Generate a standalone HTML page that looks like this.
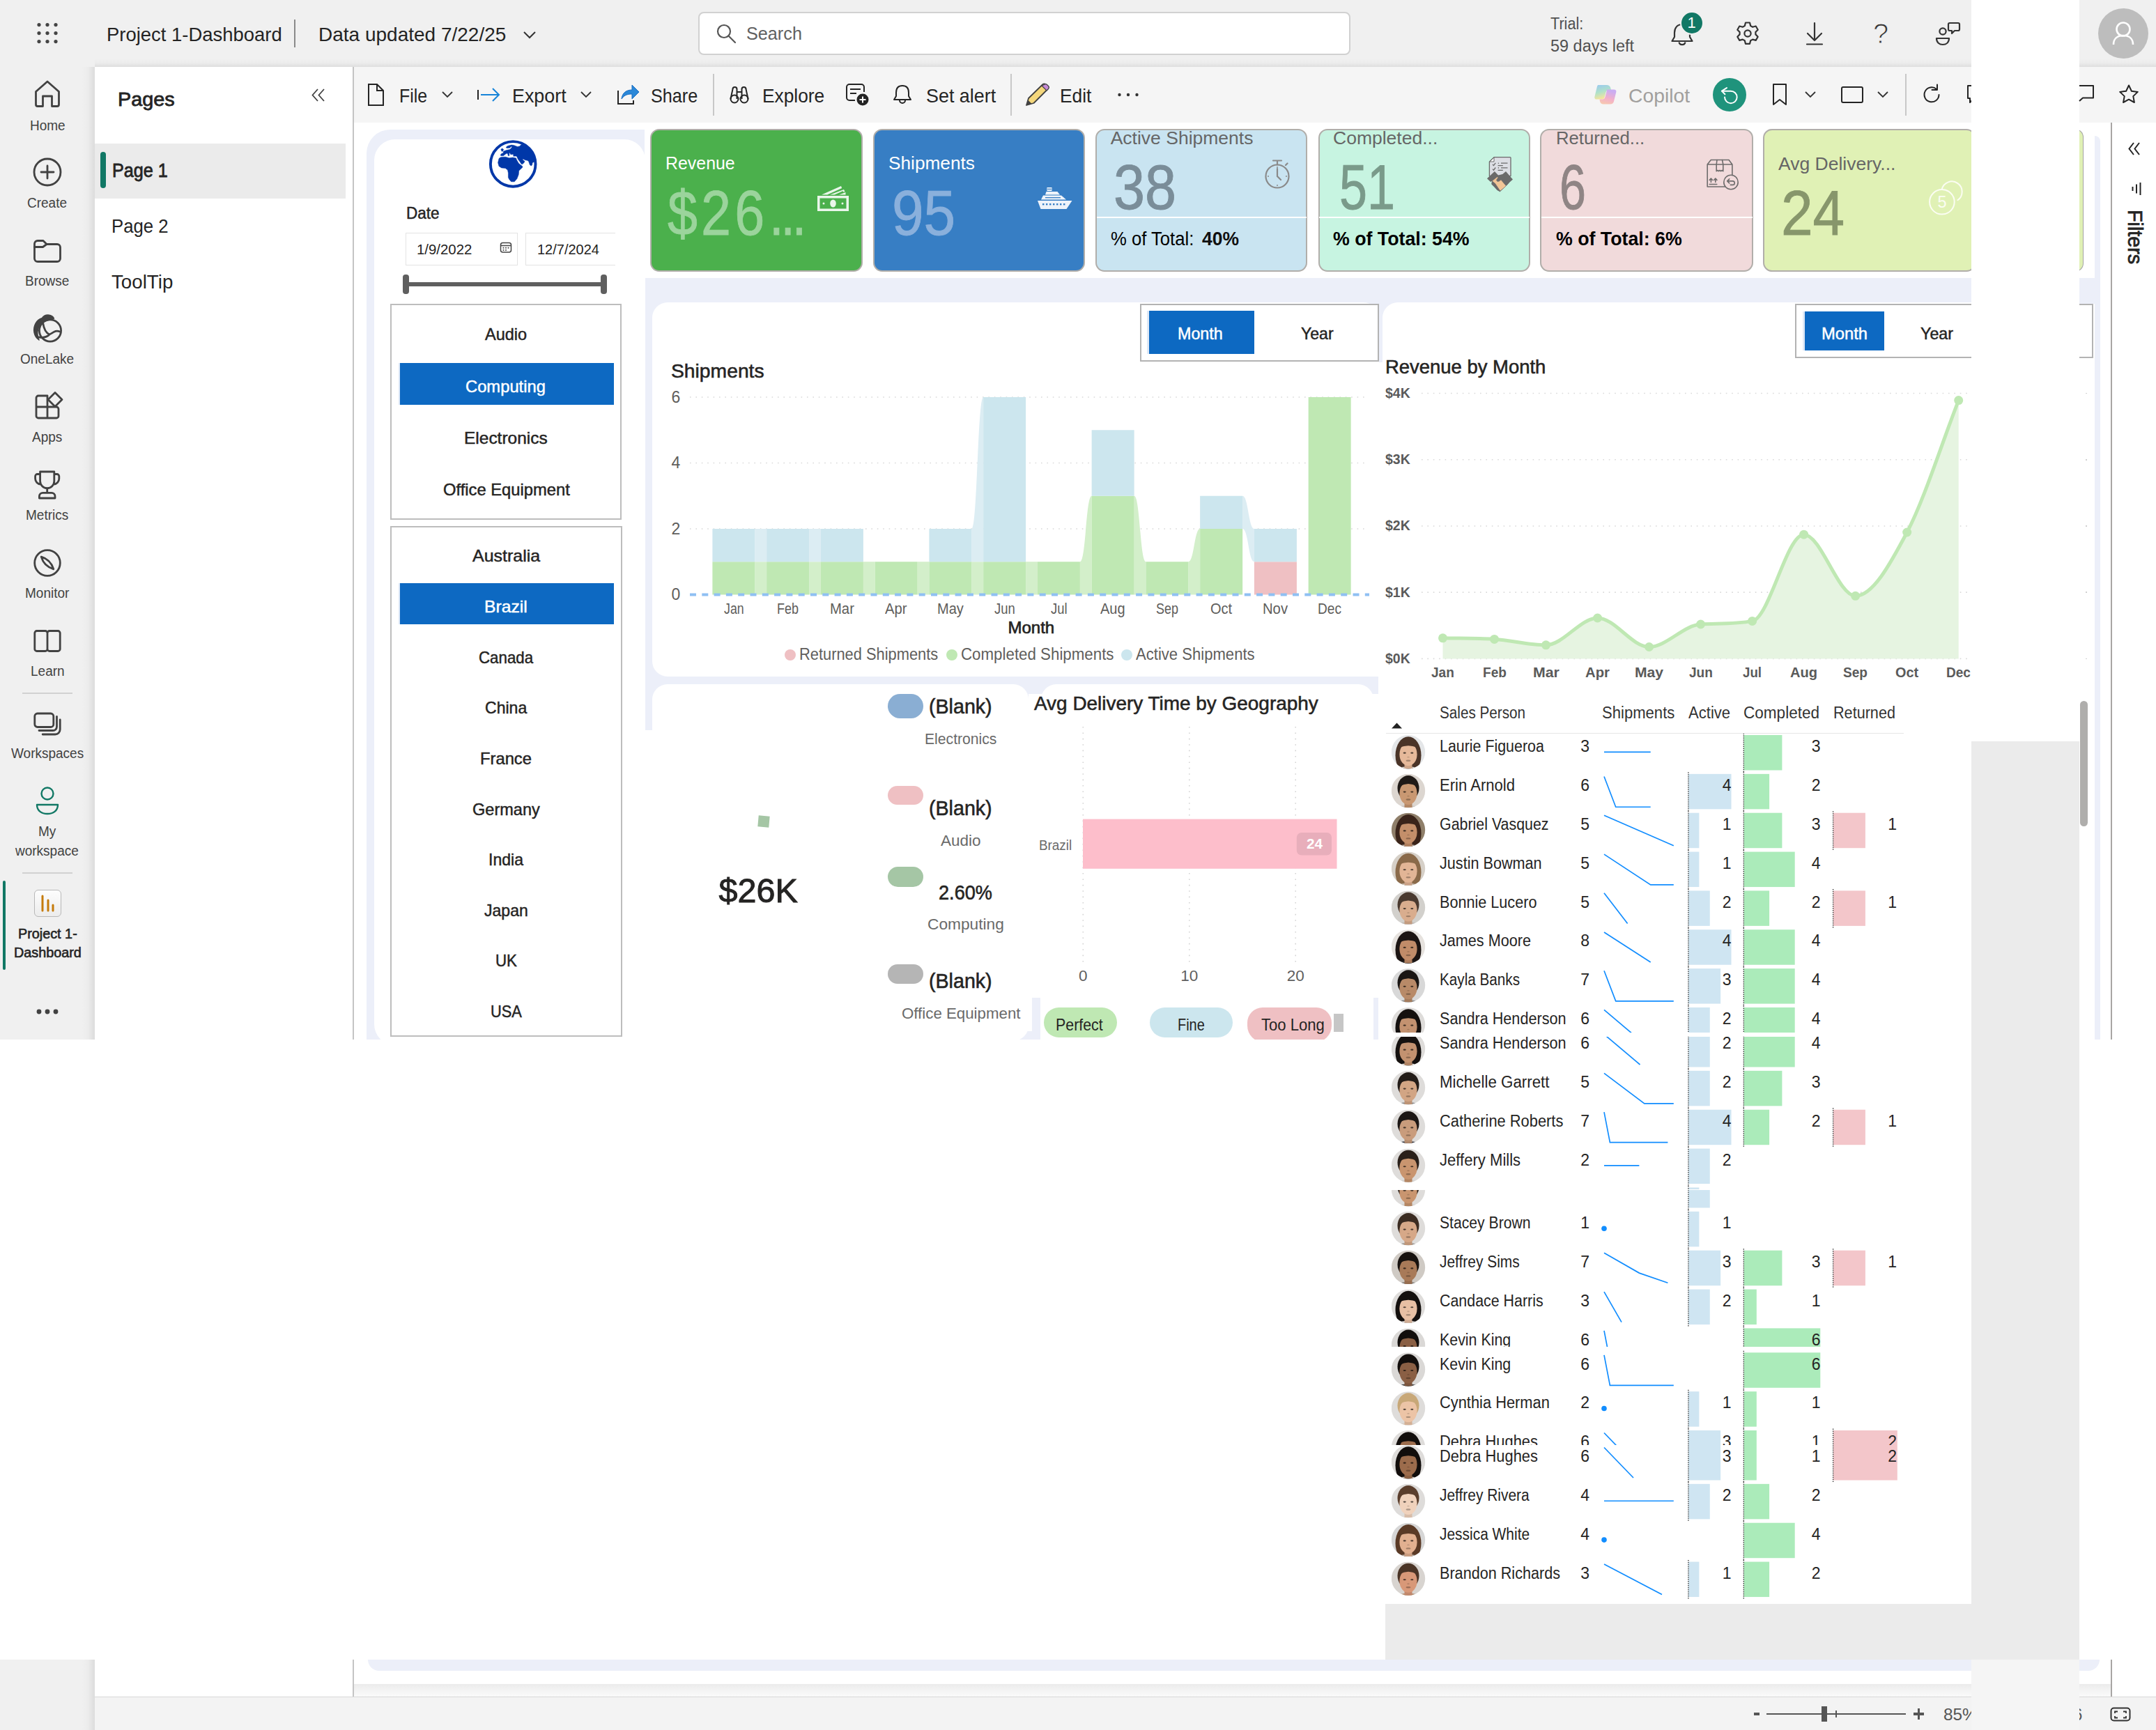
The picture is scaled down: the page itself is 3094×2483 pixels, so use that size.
<!DOCTYPE html>
<html lang="en"><head><meta charset="utf-8"><title>Project 1-Dashboard</title>
<style>
html,body{margin:0;padding:0;}
body{width:3094px;height:2483px;position:relative;overflow:hidden;background:#fff;font-family:"Liberation Sans",sans-serif;}
div,span.t,svg{position:absolute;}
span.t{white-space:nowrap;line-height:1em;transform-origin:0 0;}
svg{overflow:visible;}
</style></head><body>
<div style="left:0px;top:0px;width:3094px;height:96px;background:#f0f0f0;"></div>
<div style="left:0px;top:96px;width:136px;height:1396px;background:#f0f0f0;"></div>
<div style="left:118px;top:96px;width:18px;height:1396px;background:linear-gradient(to right,#f0f0f0,#ececec 45%,#dcdcdc);"></div>
<div style="left:136px;top:96px;width:371px;height:1396px;background:#fff;"></div>
<div style="left:506px;top:96px;width:2px;height:1396px;background:#c4c4c4;"></div>
<div style="left:508px;top:96px;width:2586px;height:80px;background:#f5f5f5;"></div>
<div style="left:136px;top:84px;width:2958px;height:12px;background:linear-gradient(#f0f0f0,#ededed 50%,#dedede);"></div>
<svg style="left:0px;top:0px;" width="136" height="96" viewBox="0 0 136 96"><g fill="#444"><circle cx="56" cy="35.6" r="2.6"/><circle cx="56" cy="47.6" r="2.6"/><circle cx="56" cy="59.6" r="2.6"/><circle cx="68" cy="35.6" r="2.6"/><circle cx="68" cy="47.6" r="2.6"/><circle cx="68" cy="59.6" r="2.6"/><circle cx="80" cy="35.6" r="2.6"/><circle cx="80" cy="47.6" r="2.6"/><circle cx="80" cy="59.6" r="2.6"/></g></svg>
<span class="t" style="left:152.5px;top:35.7px;font-size:28px;color:#242424;transform:scaleX(0.98);">Project 1-Dashboard</span>
<div style="left:421.5px;top:28px;width:2px;height:40px;background:#8a8a8a;"></div>
<span class="t" style="left:457px;top:35.7px;font-size:28px;color:#242424;transform:scaleX(1);">Data updated 7/22/25</span>
<svg style="left:748px;top:40px;" width="24" height="20" viewBox="0 0 24 20"><path d="M4 6 L12 14 L20 6" fill="none" stroke="#333" stroke-width="2"/></svg>
<div style="left:1002px;top:16.5px;width:936px;height:62.5px;background:#fff;border:2px solid #d1d1d1;border-radius:8px;box-sizing:border-box;"></div>
<svg style="left:1026px;top:32px;" width="32" height="32" viewBox="0 0 32 32"><circle cx="13" cy="13" r="9" fill="none" stroke="#555" stroke-width="2.2"/><path d="M20 20 L29 29" stroke="#555" stroke-width="2.2" stroke-linecap="round"/></svg>
<span class="t" style="left:1070.5px;top:34.99px;font-size:26px;color:#616161;transform:scaleX(0.97);">Search</span>
<span class="t" style="left:2224.7px;top:22.53px;font-size:23px;color:#505050;transform:scaleX(0.94);">Trial:</span>
<span class="t" style="left:2224.7px;top:54.53px;font-size:23px;color:#505050;transform:scaleX(1.02);">59 days left</span>
<svg style="left:2392px;top:26px;" width="44" height="44" viewBox="0 0 44 44"><path d="M22 9 c-7 0 -11 5 -11 12 v6 l-3.5 6 h29 l-3.5 -6 v-6 c0-7 -4-12 -11-12z" fill="none" stroke="#333" stroke-width="2.2" stroke-linejoin="round"/><path d="M17.5 34.5 a4.6 4.6 0 0 0 9 0" fill="none" stroke="#333" stroke-width="2.2"/></svg>
<div style="left:2410.5px;top:15.5px;width:34px;height:34px;background:#117865;border-radius:50%;border:2px solid #f0f0f0;box-sizing:border-box;"></div>
<span class="t" style="left:2421.48px;top:21.88px;font-size:22px;color:#fff;">1</span>
<svg style="left:2485.8px;top:26px;" width="44" height="44" viewBox="0 0 44 44"><g fill="none" stroke="#333" stroke-width="2.2" stroke-linejoin="round"><circle cx="22" cy="22" r="4.6"/><path d="M19 6.5 h6 l1.2 4.6 3 1.7 4.5-1.3 3 5.2-3.3 3.3 v3.4 l3.3 3.3-3 5.2-4.5-1.3-3 1.7-1.2 4.6 h-6 l-1.2-4.6-3-1.7-4.5 1.3-3-5.2 3.3-3.3 v-3.4 l-3.3-3.3 3-5.2 4.5 1.3 3-1.7z"/></g></svg>
<svg style="left:2582px;top:26px;" width="44" height="44" viewBox="0 0 44 44"><g fill="none" stroke="#333" stroke-width="2.2" stroke-linecap="round" stroke-linejoin="round"><path d="M22 7 v24 M12 22 l10 10 10-10 M11 37.5 h22"/></g></svg>
<span class="t" style="left:2687.88px;top:28.14px;font-size:40px;color:#333;-webkit-text-stroke:1px #f0f0f0;">?</span>
<svg style="left:2774px;top:26px;" width="44" height="44" viewBox="0 0 44 44"><g fill="none" stroke="#333" stroke-width="2.2" stroke-linejoin="round"><circle cx="14" cy="19" r="4.6"/><path d="M5 29 h18 c0 6 -4 9 -9 9 s-9-3 -9-9z"/><path d="M24 7 h12 a2 2 0 0 1 2 2 v7 a2 2 0 0 1 -2 2 h-5 l-4 4 v-4 h-3 a2 2 0 0 1 -2-2 v-7 a2 2 0 0 1 2-2z"/></g></svg>
<div style="left:3011px;top:12px;width:72px;height:72px;background:#bdbdbd;border-radius:50%;"></div>
<svg style="left:3011px;top:12px;" width="72" height="72" viewBox="0 0 72 72"><g fill="none" stroke="#fff" stroke-width="2.6"><circle cx="36" cy="30" r="9.5"/><path d="M22 52 c0-9 6-13 14-13 s14 4 14 13"/></g></svg>
<svg style="left:48px;top:114px;" width="40" height="42" viewBox="0 0 40 42"><path fill="none" stroke="#424242" stroke-width="2.800" stroke-linejoin="round" stroke-linecap="round" d="M3.500 17.500 L20 3 L36.500 17.500 V36 a2.500 2.500 0 0 1 -2.500 2.500 H26.500 V24 H13.500 V38.500 H6 a2.500 2.500 0 0 1 -2.500-2.500z"/></svg>
<span class="t" style="left:42.52px;top:169.57px;font-size:20px;color:#424242;transform:scaleX(0.95);">Home</span>
<svg style="left:46px;top:225px;" width="44" height="44" viewBox="0 0 44 44"><circle cx="22" cy="22" r="19" fill="none" stroke="#424242" stroke-width="2.800" stroke-linejoin="round" stroke-linecap="round"/><path fill="none" stroke="#424242" stroke-width="2.800" stroke-linejoin="round" stroke-linecap="round" d="M22 13 V31 M13 22 H31"/></svg>
<span class="t" style="left:39.34px;top:281.07px;font-size:20px;color:#424242;transform:scaleX(0.95);">Create</span>
<svg style="left:46px;top:340px;" width="44" height="40" viewBox="0 0 44 40"><path fill="none" stroke="#424242" stroke-width="2.800" stroke-linejoin="round" stroke-linecap="round" d="M3.500 10 a4.500 4.500 0 0 1 4.500-4.500 h8 l5 5 h15 a4.500 4.500 0 0 1 4.500 4.500 v16 a4.500 4.500 0 0 1 -4.500 4.500 h-28 a4.500 4.500 0 0 1 -4.500-4.500z"/><path fill="none" stroke="#424242" stroke-width="2.800" stroke-linejoin="round" stroke-linecap="round" d="M3.500 14.500 h12 l5.500-4"/></svg>
<span class="t" style="left:36.15px;top:393.07px;font-size:20px;color:#424242;transform:scaleX(0.95);">Browse</span>
<svg style="left:46px;top:450px;" width="44" height="44" viewBox="0 0 44 44"><circle cx="26" cy="24.500" r="15.600" fill="none" stroke="#424242" stroke-width="2.800" stroke-linejoin="round" stroke-linecap="round"/><path d="M31.500 7 C28 0.500 18 0.500 14.500 6.500 C6 9 1.500 18 3 27 C4 32 6.500 35.500 10 38 C5.500 28 8 16.500 17.500 11.500 C21.500 9.500 27.500 8.500 31.500 7z" fill="#424242" stroke="#424242" stroke-width="1.500" stroke-linejoin="round"/><path fill="none" stroke="#424242" stroke-width="2.800" stroke-linejoin="round" stroke-linecap="round" d="M15.600 13.500 C17 22 20 28 25 30 C30.500 27.500 33 23.500 40 26 M9.500 33.800 C16 35 21.500 34 25 30"/></svg>
<span class="t" style="left:29.24px;top:505.07px;font-size:20px;color:#424242;transform:scaleX(0.95);">OneLake</span>
<svg style="left:46px;top:562px;" width="46" height="44" viewBox="0 0 46 44"><path fill="none" stroke="#424242" stroke-width="2.800" stroke-linejoin="round" stroke-linecap="round" d="M22 6 H9 a3 3 0 0 0 -3 3 V35 a3 3 0 0 0 3 3 H35 a3 3 0 0 0 3-3 V25 a3 3 0 0 0 -3-3 H6 M22 6 V38"/><path fill="none" stroke="#424242" stroke-width="2.800" stroke-linejoin="round" stroke-linecap="round" d="M33 1.600 L43 11.600 L33 21.600 L23 11.600z"/></svg>
<span class="t" style="left:46.23px;top:617.07px;font-size:20px;color:#424242;transform:scaleX(0.95);">Apps</span>
<svg style="left:46px;top:674px;" width="44" height="44" viewBox="0 0 44 44"><path fill="none" stroke="#424242" stroke-width="2.800" stroke-linejoin="round" stroke-linecap="round" d="M11.600 3 h20.200 v13.500 a10.100 10.100 0 0 1 -20.200 0z M11.600 6.500 h-4 a3 3 0 0 0 -3 3 v3.500 a8 8 0 0 0 7.500 8 M31.800 6.500 h4 a3 3 0 0 1 3 3 v3.500 a8 8 0 0 1 -7.500 8 M21.700 27 v6.400 M10.400 41 v-2.600 a5 5 0 0 1 5-5 h12.600 a5 5 0 0 1 5 5 v2.600z"/></svg>
<span class="t" style="left:37.23px;top:729.07px;font-size:20px;color:#424242;transform:scaleX(0.95);">Metrics</span>
<svg style="left:46px;top:786px;" width="44" height="44" viewBox="0 0 44 44"><circle cx="22" cy="22" r="18.300" fill="none" stroke="#424242" stroke-width="2.800" stroke-linejoin="round" stroke-linecap="round"/><path fill="none" stroke="#424242" stroke-width="2.800" stroke-linejoin="round" stroke-linecap="round" d="M13.200 13.200 C21 15.500 27.500 20.500 30.800 30.800 C21.500 28 16 23 13.200 13.200z"/></svg>
<span class="t" style="left:36.15px;top:841.07px;font-size:20px;color:#424242;transform:scaleX(0.95);">Monitor</span>
<svg style="left:46px;top:900px;" width="44" height="40" viewBox="0 0 44 40"><path fill="none" stroke="#424242" stroke-width="2.800" stroke-linejoin="round" stroke-linecap="round" d="M3.800 8.500 a3 3 0 0 1 3-3 h12.200 a3 3 0 0 1 3 3 v23 a3 3 0 0 1 -3 3 h-12.200 a3 3 0 0 1 -3-3z M22 8.500 a3 3 0 0 1 3-3 h12.200 a3 3 0 0 1 3 3 v23 a3 3 0 0 1 -3 3 h-12.200 a3 3 0 0 1 -3-3z"/></svg>
<span class="t" style="left:43.57px;top:953.07px;font-size:20px;color:#424242;transform:scaleX(0.95);">Learn</span>
<div style="left:32px;top:993.8px;width:72px;height:2px;background:#d1d1d1;"></div>
<svg style="left:46px;top:1020px;" width="46" height="38" viewBox="0 0 46 38"><rect x="3.800" y="4" width="27" height="19.500" rx="4" fill="none" stroke="#424242" stroke-width="2.800" stroke-linejoin="round" stroke-linecap="round"/><path fill="none" stroke="#424242" stroke-width="2.800" stroke-linejoin="round" stroke-linecap="round" d="M35.500 8.500 v14.500 a5.500 5.500 0 0 1 -5.500 5.500 h-20 M40.200 13 v14 a7 7 0 0 1 -7 7 h-18"/></svg>
<span class="t" style="left:15.63px;top:1071.07px;font-size:20px;color:#424242;transform:scaleX(0.95);">Workspaces</span>
<svg style="left:48px;top:1128px;" width="40" height="44" viewBox="0 0 40 44"><circle cx="20" cy="11" r="8.5" fill="none" stroke="#117865" stroke-width="2.400" stroke-linejoin="round" stroke-linecap="round"/><path fill="none" stroke="#117865" stroke-width="2.400" stroke-linejoin="round" stroke-linecap="round" d="M5 27 h30 c0 9 -7 13 -15 13 s-15-4 -15-13z"/></svg>
<span class="t" style="left:55.27px;top:1183.07px;font-size:20px;color:#424242;transform:scaleX(0.95);">My</span>
<span class="t" style="left:22.35px;top:1211.07px;font-size:20px;color:#424242;transform:scaleX(0.95);">workspace</span>
<div style="left:32px;top:1252px;width:72px;height:2px;background:#d1d1d1;"></div>
<div style="left:4px;top:1264px;width:4px;height:128px;background:#117865;border-radius:2px;"></div>
<div style="left:48.5px;top:1276.5px;width:39px;height:39px;background:linear-gradient(#fdfdfd,#ececec);border:1.5px solid #b8b8b8;border-radius:6px;box-sizing:border-box;"></div>
<svg style="left:48.5px;top:1276.5px;" width="39" height="39" viewBox="0 0 39 39"><g stroke="#c57b0a" stroke-width="3" stroke-linecap="round"><path d="M12 9 V30"/><path d="M20 15 V30"/><path d="M27 22 V30"/></g></svg>
<span class="t" style="left:25.63px;top:1329.57px;font-size:20px;color:#242424;-webkit-text-stroke:0.6px;transform:scaleX(0.99);">Project 1-</span>
<span class="t" style="left:19.57px;top:1357.07px;font-size:20px;color:#242424;-webkit-text-stroke:0.6px;transform:scaleX(0.99);">Dashboard</span>
<svg style="left:50px;top:1444px;" width="36" height="16" viewBox="0 0 36 16"><g fill="#424242"><circle cx="6" cy="8" r="3.4"/><circle cx="18" cy="8" r="3.4"/><circle cx="30" cy="8" r="3.4"/></g></svg>
<span class="t" style="left:169px;top:127.87px;font-size:28.5px;color:#242424;-webkit-text-stroke:0.8px;transform:scaleX(1.01);">Pages</span>
<svg style="left:446px;top:126px;" width="22" height="22" viewBox="0 0 22 22"><path d="M10 2 L2.5 10.5 L10 19 M19 2 L11.5 10.5 L19 19" fill="none" stroke="#424242" stroke-width="1.8"/></svg>
<div style="left:136px;top:205.5px;width:359.5px;height:79.5px;background:#ebebeb;"></div>
<div style="left:144px;top:217.5px;width:7.5px;height:52px;background:#117865;border-radius:4px;"></div>
<span class="t" style="left:161px;top:231.3px;font-size:28px;color:#242424;-webkit-text-stroke:0.8px;transform:scaleX(0.9);">Page 1</span>
<span class="t" style="left:160px;top:311.3px;font-size:28px;color:#242424;transform:scaleX(0.92);">Page 2</span>
<span class="t" style="left:160px;top:391.3px;font-size:28px;color:#242424;transform:scaleX(0.99);">ToolTip</span>
<svg style="left:526px;top:118px;" width="28" height="36" viewBox="0 0 28 36"><path fill="none" stroke="#242424" stroke-width="2" d="M3 3 h12 l9 9 v21 h-21z M15 3 v9 h9"/></svg>
<span class="t" style="left:573px;top:123.6px;font-size:28px;color:#242424;transform:scaleX(0.89);">File</span>
<svg style="left:634px;top:130px;" width="16" height="12" viewBox="0 0 16 12"><path d="M1 2 L8 9 L15 2" fill="none" stroke="#333" stroke-width="1.8"/></svg>
<svg style="left:684px;top:122px;" width="36" height="28" viewBox="0 0 36 28"><path d="M2 7 v14" stroke="#242424" stroke-width="2"/><path d="M6 14 h25 M23 5 l9 9 -9 9" fill="none" stroke="#1684d8" stroke-width="2"/></svg>
<span class="t" style="left:735px;top:123.6px;font-size:28px;color:#242424;transform:scaleX(0.96);">Export</span>
<svg style="left:833px;top:130px;" width="16" height="12" viewBox="0 0 16 12"><path d="M1 2 L8 9 L15 2" fill="none" stroke="#333" stroke-width="1.8"/></svg>
<svg style="left:884px;top:118px;" width="36" height="34" viewBox="0 0 36 34"><path d="M3 12 v19 h22 v-5" fill="none" stroke="#242424" stroke-width="2"/><path d="M8 24 c1-9 7-13 15-13 v-7 l10 10 -10 10 v-7 c-6 0 -11 1 -15 7z" fill="#2b88d8" stroke="#1b6ec2" stroke-width="1"/></svg>
<span class="t" style="left:934px;top:123.6px;font-size:28px;color:#242424;transform:scaleX(0.9);">Share</span>
<div style="left:1022.5px;top:106px;width:2px;height:60px;background:#c8c8c8;"></div>
<svg style="left:1046px;top:120px;" width="30" height="32" viewBox="0 0 30 32"><g fill="none" stroke="#242424" stroke-width="2"><circle cx="8" cy="22" r="5.5"/><circle cx="22" cy="22" r="5.5"/><path d="M2.5 22 l3-14 a3 3 0 0 1 6 0 v14 M27.500 22 l-3-14 a3 3 0 0 0 -6 0 v14 M11.500 12 h7"/></g></svg>
<span class="t" style="left:1094px;top:123.6px;font-size:28px;color:#242424;transform:scaleX(0.94);">Explore</span>
<svg style="left:1212px;top:118px;" width="38" height="36" viewBox="0 0 38 36"><path d="M28 14 v-7 a4 4 0 0 0 -4-4 h-17 a4 4 0 0 0 -4 4 v15 a4 4 0 0 0 4 4 h8" fill="none" stroke="#242424" stroke-width="2"/><path d="M8 10 h15 M8 16 h9" stroke="#242424" stroke-width="2"/><circle cx="26" cy="25" r="8.5" fill="#242424"/><path d="M26 20.500 v9 M21.500 25 h9" stroke="#fff" stroke-width="2"/></svg>
<svg style="left:1280px;top:120px;" width="30" height="32" viewBox="0 0 30 32"><path d="M15 3 c-6 0 -9 4 -9 10 v5 l-3 5 h24 l-3-5 v-5 c0-6 -3-10 -9-10z M11 24 a4 4 0 0 0 8 0" fill="none" stroke="#242424" stroke-width="2" stroke-linejoin="round"/></svg>
<span class="t" style="left:1328.5px;top:123.6px;font-size:28px;color:#242424;transform:scaleX(0.96);">Set alert</span>
<div style="left:1450px;top:106px;width:2px;height:60px;background:#c8c8c8;"></div>
<svg style="left:1468px;top:118px;" width="40" height="38" viewBox="0 0 40 38"><path d="M5 33 l3-10 L28 3.500 a3.500 3.500 0 0 1 5 0 l2 2 a3.500 3.500 0 0 1 0 5 L15.500 30z" fill="#f4d77c" stroke="#424242" stroke-width="1.8" stroke-linejoin="round"/><path d="M27 5 l7 7 2.500-2.500 a3 3 0 0 0 0-4 l-2-2 a3 3 0 0 0 -4 0z" fill="#c78bd8" stroke="#424242" stroke-width="1.2"/><path d="M5 33 l2.200-7.500 5.300 5.300z" fill="#424242"/></svg>
<span class="t" style="left:1521px;top:123.6px;font-size:28px;color:#242424;transform:scaleX(0.94);">Edit</span>
<svg style="left:1602px;top:130px;" width="34" height="12" viewBox="0 0 34 12"><g fill="#333"><circle cx="4.500" cy="6" r="2.200"/><circle cx="17" cy="6" r="2.200"/><circle cx="29.500" cy="6" r="2.200"/></g></svg>
<svg style="left:2287px;top:121px;opacity:.9;" width="34" height="30" viewBox="0 0 34 30"><defs><linearGradient id="cgl" x1="0" y1="0" x2="0.300" y2="1"><stop offset="0" stop-color="#8fc4f2"/><stop offset=".55" stop-color="#a9e0c4"/><stop offset="1" stop-color="#f6e493"/></linearGradient><linearGradient id="cgr" x1="0.300" y1="0" x2="0" y2="1"><stop offset="0" stop-color="#c6a6f2"/><stop offset=".5" stop-color="#f3a9c6"/><stop offset="1" stop-color="#f9c9a2"/></linearGradient></defs><path d="M6.500 1 H18.500 Q23.500 1 24.500 6 L25 8 H21.500 Q18.500 8 17.500 11.500 L15.500 19 Q14.800 21.500 12 21.500 H4.500 Q0.500 21.500 1.500 17.500 L4.500 5 Q5.300 1 6.500 1z" fill="url(#cgl)"/><path d="M18.500 7.500 H29 Q33.200 7.500 32.200 11.500 L29 24.500 Q28 28.600 24 28.600 H14 Q10 28.600 9 24.500 L8.500 21.500 H12.500 Q15.500 21.500 16.500 18 L18.500 10.500 Q19 8.500 18.500 7.500z" fill="url(#cgr)"/></svg>
<span class="t" style="left:2336.7px;top:123.6px;font-size:28px;color:#a19f9d;transform:scaleX(1.01);">Copilot</span>
<div style="left:2458px;top:111.9px;width:48px;height:48px;background:#1f937c;border-radius:50%;"></div>
<svg style="left:2457.6px;top:111.5px;" width="48.4" height="48.4" viewBox="0 0 48.4 48.4"><path d="M13.200 18.650 H25.860 A8.800 8.800 0 1 1 17.060 27.450" fill="none" stroke="#fff" stroke-width="2" stroke-linecap="round"/><path d="M20 14.100 L12.900 18.650 L17.400 23.200" fill="none" stroke="#fff" stroke-width="2" stroke-linecap="round" stroke-linejoin="round"/></svg>
<svg style="left:2542px;top:119px;" width="24" height="34" viewBox="0 0 24 34"><path d="M3 2 h18 v29 l-9-7 -9 7z" fill="none" stroke="#242424" stroke-width="2" stroke-linejoin="round"/></svg>
<svg style="left:2590px;top:130px;" width="16" height="12" viewBox="0 0 16 12"><path d="M1 2 L8 9 L15 2" fill="none" stroke="#333" stroke-width="1.8"/></svg>
<div style="left:2642px;top:124px;width:32px;height:24px;border:2px solid #242424;border-radius:3px;box-sizing:border-box;"></div>
<svg style="left:2694px;top:130px;" width="16" height="12" viewBox="0 0 16 12"><path d="M1 2 L8 9 L15 2" fill="none" stroke="#333" stroke-width="1.8"/></svg>
<div style="left:2734px;top:106px;width:2px;height:60px;background:#c8c8c8;"></div>
<svg style="left:2756px;top:120px;" width="32" height="32" viewBox="0 0 32 32"><path d="M26.500 16 a10.500 10.500 0 1 1 -3.500-8" fill="none" stroke="#242424" stroke-width="2" stroke-linecap="round"/><path d="M24 1.500 v7.500 h-7.500" fill="none" stroke="#242424" stroke-width="2" stroke-linecap="round" stroke-linejoin="round"/></svg>
<svg style="left:2822px;top:121px;" width="32" height="30" viewBox="0 0 32 30"><path d="M2 2 h26 v18 h-17 l-6 6 v-6 h-3z" fill="none" stroke="#242424" stroke-width="2" stroke-linejoin="round"/></svg>
<div style="left:508px;top:176px;width:2522px;height:1316px;background:#fff;"></div>
<div style="left:526px;top:186px;width:2333px;height:1400px;background:#eceff9;border-radius:34px 0 0 0;"></div>
<div style="left:925px;top:176px;width:1910px;height:223px;background:#fff;"></div>
<div style="left:537px;top:200px;width:388.5px;height:1300px;background:#fff;border-radius:30px 30px 0 30px;"></div>
<svg style="left:701.9px;top:200.9px;" width="68.5" height="68.5" viewBox="0 0 68.5 68.5"><circle cx="34.2" cy="34.4" r="32.300" fill="#fff" stroke="#0037a8" stroke-width="3.900"/><path fill="#0037a8" stroke="#0037a8" stroke-width="0.500" stroke-linejoin="round" d="M14.0 26.5 L15.9 25.1 L18.2 24.4 L23.3 24.2 L28.8 25.8 L33.9 25.1 L38.7 26.0 L39.2 28.1 L42.4 33.4 L47.8 37.8 L47.8 39.2 L42.7 44.1 L42.2 49.6 L39.9 55.6 L36.2 59.8 L31.6 59.8 L28.8 56.5 L27.4 53.8 L27.4 47.3 L26.5 43.1 L23.3 40.4 L17.7 39.9 L14.0 37.6 L12.6 32.5z M39.9 24.2 L39.0 23.0 L34.8 23.2 L34.8 20.5 L32.5 20.5 L31.1 20.9 L29.7 18.6 L28.8 18.6 L28.8 22.3 L27.4 22.8 L26.5 19.3 L24.6 19.3 L20.5 22.5 L16.8 22.5 L16.2 21.4 L17.7 19.5 L20.5 18.4 L20.0 16.8 L21.4 15.8 L25.1 14.5 L29.7 13.5 L31.6 11.7 L32.9 9.5 L31.8 9.2 L29.5 11.3 L25.1 11.6 L24.2 10.3 L26.5 8.4 L32.0 7.1 L35.3 7.5 L40.4 9.4 L43.6 8.9 L45.9 6.6 L46.5 6.2 L52.9 9.4 L58.4 14.5 L62.1 20.0 L64.4 26.5 L65.0 31.1 L62.1 32.5 L61.6 35.7 L60.3 37.1 L58.4 35.7 L56.6 30.6 L54.7 29.3 L51.9 28.8 L48.7 27.2 L47.8 28.1 L51.0 30.6 L50.1 32.5 L47.5 34.8 L46.1 34.3 L43.6 30.6 L41.3 27.4 L40.8 26.0z M16.8 13.5 L18.6 11.9 L20.7 13.5 L19.6 15.8 L18.4 16.5z"/></svg>
<span class="t" style="left:582.5px;top:294.61px;font-size:23.5px;color:#252423;-webkit-text-stroke:0.47px;transform:scaleX(0.96);">Date</span>
<div style="left:582px;top:334px;width:161px;height:46.5px;background:#fff;border:1.5px solid #e3e3e3;box-sizing:border-box;"></div>
<div style="left:754px;top:334px;width:129px;height:46.5px;background:#fff;border:1.5px solid #e3e3e3;border-right:none;box-sizing:border-box;"></div>
<span class="t" style="left:598px;top:348.07px;font-size:20px;color:#252423;transform:scaleX(1.02);">1/9/2022</span>
<span class="t" style="left:771px;top:348.07px;font-size:20px;color:#252423;">12/7/2024</span>
<svg style="left:717px;top:346px;" width="18" height="18" viewBox="0 0 18 18"><rect x="1.500" y="2.500" width="15" height="13.500" rx="3" fill="none" stroke="#444" stroke-width="1.500"/><path d="M1.500 6.500 h15" stroke="#444" stroke-width="1.500"/><g fill="#444"><circle cx="5.500" cy="9.800" r="1"/><circle cx="9" cy="9.800" r="1"/><circle cx="12.500" cy="9.800" r="1"/><circle cx="5.500" cy="13" r="1"/><circle cx="9" cy="13" r="1"/></g></svg>
<div style="left:582px;top:404.5px;width:284px;height:6px;background:#5f5f5f;"></div>
<div style="left:578px;top:393.5px;width:9px;height:28px;background:#5f5f5f;border-radius:4px;"></div>
<div style="left:861.5px;top:393.5px;width:9px;height:28px;background:#5f5f5f;border-radius:4px;"></div>
<div style="left:560.3px;top:436px;width:331.5px;height:309.5px;background:#fff;border:2px solid #bdbdbd;box-sizing:border-box;"></div>
<div style="left:571.5px;top:521px;width:309.5px;height:60px;background:#0d69c2;border-left:2.500px solid #dfe9f7;box-sizing:border-box;"></div>
<span class="t" style="left:696px;top:468.08px;font-size:24px;color:#252423;-webkit-text-stroke:0.48px;transform:scaleX(0.98);">Audio</span>
<span class="t" style="left:668.25px;top:543.28px;font-size:24px;color:#fff;-webkit-text-stroke:0.48px;transform:scaleX(0.99);">Computing</span>
<span class="t" style="left:666px;top:617.28px;font-size:24px;color:#252423;-webkit-text-stroke:0.48px;transform:scaleX(1.02);">Electronics</span>
<span class="t" style="left:635.5px;top:691.28px;font-size:24px;color:#252423;-webkit-text-stroke:0.48px;transform:scaleX(0.99);">Office Equipment</span>
<div style="left:560.3px;top:754.8px;width:332.3px;height:733.7px;background:#fff;border:2px solid #bdbdbd;box-sizing:border-box;"></div>
<div style="left:571.5px;top:837px;width:309.5px;height:59px;background:#0d69c2;border-left:2.500px solid #dfe9f7;box-sizing:border-box;"></div>
<span class="t" style="left:677.5px;top:786.28px;font-size:24px;color:#252423;-webkit-text-stroke:0.48px;transform:scaleX(1.04);">Australia</span>
<span class="t" style="left:695px;top:858.93px;font-size:24px;color:#fff;-webkit-text-stroke:0.48px;transform:scaleX(1.03);">Brazil</span>
<span class="t" style="left:687px;top:931.58px;font-size:24px;color:#252423;-webkit-text-stroke:0.48px;transform:scaleX(0.93);">Canada</span>
<span class="t" style="left:696px;top:1004.23px;font-size:24px;color:#252423;-webkit-text-stroke:0.48px;transform:scaleX(0.96);">China</span>
<span class="t" style="left:689px;top:1076.88px;font-size:24px;color:#252423;-webkit-text-stroke:0.48px;transform:scaleX(0.99);">France</span>
<span class="t" style="left:677.5px;top:1149.53px;font-size:24px;color:#252423;-webkit-text-stroke:0.48px;transform:scaleX(0.98);">Germany</span>
<span class="t" style="left:701px;top:1222.18px;font-size:24px;color:#252423;-webkit-text-stroke:0.48px;transform:scaleX(0.96);">India</span>
<span class="t" style="left:694.5px;top:1294.83px;font-size:24px;color:#252423;-webkit-text-stroke:0.48px;transform:scaleX(0.96);">Japan</span>
<span class="t" style="left:710.5px;top:1367.48px;font-size:24px;color:#252423;-webkit-text-stroke:0.48px;transform:scaleX(0.93);">UK</span>
<span class="t" style="left:703.5px;top:1440.13px;font-size:24px;color:#252423;-webkit-text-stroke:0.48px;transform:scaleX(0.91);">USA</span>
<div style="left:932.8px;top:184.7px;width:305px;height:205.3px;background:#4bb04c;border:2px solid #b1aeaa;border-radius:13px;box-sizing:border-box;"></div>
<span class="t" style="left:955.2px;top:221.07px;font-size:26.5px;color:#fff;transform:scaleX(0.94);">Revenue</span>
<span class="t" style="left:958px;top:259.77px;font-size:91px;color:#9bd49c;-webkit-text-stroke:0.9px;letter-spacing:6px;transform:scaleX(0.85);">$26</span>
<span class="t" style="left:1104px;top:259.77px;font-size:91px;color:#9bd49c;-webkit-text-stroke:0.9px;letter-spacing:-5.5px;transform:scaleX(0.82);">...</span>
<svg style="left:1171px;top:267px;" width="47" height="36" viewBox="0 0 47 36"><g fill="#eaf6ea"><path d="M2 14 h45 v22 h-45z M5.500 17.500 v15 h38 v-15z" fill-rule="evenodd"/><ellipse cx="24.500" cy="25" rx="4.300" ry="5.500"/><circle cx="11" cy="25" r="1.500"/><circle cx="38" cy="25" r="1.500"/><path d="M8 12.500 L36 0 l1.200 3 -21 9.500z M20 12.500 L40 5 l1.500 3 -2 0.700 -1-1.500 -12 5.300z M33 12.500 l9.500-3.500 0 3.500z"/></g></svg>
<div style="left:1252.7px;top:184.7px;width:304.7px;height:205.3px;background:#377ec4;border:2px solid #b1aeaa;border-radius:13px;box-sizing:border-box;"></div>
<span class="t" style="left:1274.5px;top:221.07px;font-size:26.5px;color:#fff;transform:scaleX(0.99);">Shipments</span>
<span class="t" style="left:1279.7px;top:259.77px;font-size:91px;color:#8ab0dc;-webkit-text-stroke:0.9px;transform:scaleX(0.9);">95</span>
<svg style="left:1488.5px;top:269px;" width="49.5" height="31" viewBox="0 0 49.5 31"><g fill="#eef3fa"><path d="M0 19 h49.500 l-8 12 h-37z"/><path d="M5 17.500 l3-6 h26 l7 6z"/><path d="M11 10.500 l1.500-4.500 h16 l3.500 4.500z"/><path d="M13.500 5 v-5 h7 v5z"/></g><g fill="#377ec4"><rect x="7" y="23" width="2.400" height="2.400"/><rect x="12" y="23" width="2.400" height="2.400"/><rect x="17" y="23" width="2.400" height="2.400"/><rect x="22" y="23" width="2.400" height="2.400"/><rect x="27" y="23" width="2.400" height="2.400"/><rect x="32" y="23" width="2.400" height="2.400"/><rect x="37" y="23" width="2.400" height="2.400"/><rect x="11" y="14" width="22" height="1.300"/><rect x="14" y="1.800" width="6" height="1.200"/></g></svg>
<div style="left:1572.2px;top:184.7px;width:304.3px;height:205.3px;background:#c9e4f1;border:2px solid #b1aeaa;border-radius:13px;box-sizing:border-box;"></div>
<span class="t" style="left:1593.7px;top:185.17px;font-size:26.5px;color:#666;">Active Shipments</span>
<span class="t" style="left:1598px;top:222.97px;font-size:91px;color:#7a8d99;-webkit-text-stroke:0.9px;transform:scaleX(0.89);">38</span>
<div style="left:1573.7px;top:310.7px;width:301.3px;height:2.2px;background:#fff;"></div>
<span class="t" style="left:1594.3px;top:329.84px;font-size:27px;color:#000;transform:scaleX(0.95);">% of Total: </span>
<span class="t" style="left:1724.5px;top:329.84px;font-size:27px;color:#111;font-weight:700;transform:scaleX(0.98);">40%</span>
<svg style="left:1814px;top:228px;" width="38" height="44" viewBox="0 0 38 44"><g fill="none" stroke="#8a8a8a" stroke-width="2.200" stroke-linecap="round"><circle cx="19" cy="25" r="16.500"/><path d="M13 2.500 h12 M19 3 v5.500 M31 9 l2.500-2.500 M19 14 v11 l5 5"/></g><g fill="#8a8a8a"><circle cx="19" cy="12" r="1"/><circle cx="19" cy="38" r="1"/><circle cx="6" cy="25" r="1"/><circle cx="32" cy="25" r="1"/></g></svg>
<div style="left:1891.5px;top:184.7px;width:304.5px;height:205.3px;background:#c7f4e1;border:2px solid #b1aeaa;border-radius:13px;box-sizing:border-box;"></div>
<span class="t" style="left:1913px;top:185.17px;font-size:26.5px;color:#666;">Completed...</span>
<span class="t" style="left:1922px;top:222.97px;font-size:91px;color:#7a9a8a;-webkit-text-stroke:0.9px;transform:scaleX(0.79);">51</span>
<div style="left:1893px;top:310.7px;width:301.5px;height:2.2px;background:#fff;"></div>
<span class="t" style="left:1913px;top:329.84px;font-size:27px;color:#000;font-weight:700;transform:scaleX(0.99);">% of Total: 54%</span>
<svg style="left:2133.9px;top:225px;" width="38" height="51" viewBox="0 0 38 51"><path d="M10 0.600 h23 q1 0 1 1 v26 h-30.600 v-20.300z" fill="#dcdee4" stroke="#6a6a6a" stroke-width="1.300" stroke-linejoin="round"/><path d="M3.800 7 h6.200 v-6z" fill="#fff" stroke="#6a6a6a" stroke-width="1"/>
<g stroke="#6a6a6a" stroke-width="1.300" fill="none"><path d="M20 9.200 h9.500 M15.600 12.600 h7.200 M20 15.900 h9.500 M15.600 19.300 h7.200"/><path d="M8 11 l1.500 1.600 2.700-3.700 M8 17.600 l1.500 1.600 2.700-3.700"/></g><circle cx="16.400" cy="9.200" r="0.800" fill="#6a6a6a"/><circle cx="16.400" cy="15.900" r="0.800" fill="#6a6a6a"/>
<path d="M0 31.200 L10.900 21.100 L16.100 26.400 L15 28.900 L11.700 31.200 L7.200 35.100 L5 35.900z" fill="#6a6a6a"/>
<path d="M27 21.100 L37 32.600 L31.700 37.300 L28.900 40.600 L27.300 41.700 L25 35.100 L20.600 32.800 L17.300 29.500 L20 27.300 L22.300 25z" fill="#6a6a6a"/>
<path d="M6.400 36.700 L9.500 36.200 L17.300 46.800 L18.900 49 L18.900 50.600 L14.500 47.900 L10 42.900 L6.400 39.500z" fill="#6a6a6a"/>
<path d="M7 33 L16 26.400 L22.300 25 L31.700 37.300 L27.300 41.700 L18.900 50 L7 39z" fill="#6a6a6a"/>
<path d="M7.200 34.800 L14.500 28.900 L16.100 29.500 L13.400 33.400 L15 35.600 L17.300 35.100 L20 33.100 L27.300 41.700 L25 44 L18.900 49 L17.300 46.800 L11.700 38.400z" fill="#f2c596" stroke="#6a6a6a" stroke-width="0.600" stroke-linejoin="round"/></svg>
<div style="left:2210.4px;top:184.7px;width:305.6px;height:205.3px;background:#f1dadb;border:2px solid #b1aeaa;border-radius:13px;box-sizing:border-box;"></div>
<span class="t" style="left:2232.8px;top:185.17px;font-size:26.5px;color:#666;transform:scaleX(0.97);">Returned...</span>
<span class="t" style="left:2238px;top:222.97px;font-size:91px;color:#8f8585;-webkit-text-stroke:0.9px;transform:scaleX(0.75);">6</span>
<div style="left:2212px;top:310.7px;width:302.5px;height:2.2px;background:#fff;"></div>
<span class="t" style="left:2232.5px;top:329.84px;font-size:27px;color:#000;font-weight:700;transform:scaleX(0.99);">% of Total: 6%</span>
<svg style="left:2449px;top:229px;" width="46" height="43" viewBox="0 0 46 43"><g fill="none" stroke="#6e6c6c" stroke-width="1.600" stroke-linejoin="round" stroke-linecap="round"><path d="M1.200 7 L6.300 0.500 H32 L36.900 7 V22.500 M1.200 7 V39 H27 M1.200 7 H36.900"/><path d="M15 0.500 L14.200 7 V16.700 l1.600-1.200 1.600 1.200 1.600-1.200 1.600 1.200 1.600-1.200 1.600 1.200 V7 L22.500 0.500"/><path d="M6.400 32.500 V27.400 M4.200 29.500 l2.200-2.500 2.200 2.500 M12.800 32.500 V27.400 M10.600 29.500 l2.200-2.500 2.200 2.500 M4.200 35.500 H14.800"/><circle cx="35" cy="32.500" r="10.200" fill="#f1dadb"/><path d="M29.700 30.900 H37.500 a2.750 2.750 0 0 1 0 5.500 H34.300 M32.700 27.900 l-3 3 3 3"/></g></svg>
<div style="left:2530px;top:184.7px;width:304.5px;height:205.3px;background:#e0f1b5;border:2px solid #b1aeaa;border-radius:13px;box-sizing:border-box;"></div>
<span class="t" style="left:2552px;top:221.57px;font-size:26.5px;color:#666;">Avg Delivery...</span>
<span class="t" style="left:2555.8px;top:260.47px;font-size:91px;color:#87966b;-webkit-text-stroke:0.9px;transform:scaleX(0.9);">24</span>
<svg style="left:2768px;top:262px;" width="48" height="48" viewBox="0 0 48 48"><g fill="none" stroke="#fbfdf3" stroke-width="2" stroke-linecap="round"><path d="M18.800 9.300 A14.700 14.700 0 1 1 41.400 25.200"/><circle cx="18.900" cy="27.800" r="17.800"/></g></svg>
<span class="t" style="left:2780.56px;top:278.61px;font-size:23.5px;color:#fbfdf3;">5</span>
<div style="left:936.4px;top:433.8px;width:1042.3px;height:537.3px;background:#fff;border-radius:22px 22px 0 22px;"></div>
<div style="left:1984.3px;top:433.5px;width:900px;height:1060px;background:#fff;border-radius:22px 0 0 0;"></div>
<div style="left:1978px;top:520px;width:8px;height:975px;background:#fff;"></div>
<div style="left:936.4px;top:981.5px;width:540.1px;height:512px;background:#fff;border-radius:22px 22px 22px 0;"></div>
<div style="left:1494px;top:981.5px;width:477px;height:512px;background:#fff;border-radius:22px;"></div>
<div style="left:1476px;top:995.6px;width:510px;height:436.4px;background:#fff;"></div>
<div style="left:925px;top:1048px;width:12px;height:450px;background:#fff;"></div>
<span class="t" style="left:963px;top:519.3px;font-size:28px;color:#252423;-webkit-text-stroke:0.56px;transform:scaleX(1.01);">Shipments</span>
<svg style="left:0px;top:0px;" width="3094" height="1000" viewBox="0 0 3094 1000"><path d="M990 759 H1964" stroke="#d9d9d9" stroke-width="1.600" stroke-dasharray="1.600 6.800"/><path d="M990 664.5 H1964" stroke="#d9d9d9" stroke-width="1.600" stroke-dasharray="1.600 6.800"/><path d="M990 570 H1964" stroke="#d9d9d9" stroke-width="1.600" stroke-dasharray="1.600 6.800"/><path d="M1083.4 806.25 C1091.78 806.25 1091.78 806.25 1100.15 806.25 L1100.15 853.5 C1091.78 853.5 1091.78 853.5 1083.4 853.5 Z" fill="#d3efca"/><path d="M1083.4 759 C1091.78 759 1091.78 759 1100.15 759 L1100.15 806.25 C1091.78 806.25 1091.78 806.25 1083.4 806.25 Z" fill="#dcedf3"/><path d="M1161.15 806.25 C1169.53 806.25 1169.53 806.25 1177.9 806.25 L1177.9 853.5 C1169.53 853.5 1169.53 853.5 1161.15 853.5 Z" fill="#d3efca"/><path d="M1161.15 759 C1169.53 759 1169.53 759 1177.9 759 L1177.9 806.25 C1169.53 806.25 1169.53 806.25 1161.15 806.25 Z" fill="#dcedf3"/><path d="M1238.9 806.25 C1247.28 806.25 1247.28 806.25 1255.65 806.25 L1255.65 853.5 C1247.28 853.5 1247.28 853.5 1238.9 853.5 Z" fill="#d3efca"/><path d="M1316.65 806.25 C1325.03 806.25 1325.03 806.25 1333.4 806.25 L1333.4 853.5 C1325.03 853.5 1325.03 853.5 1316.65 853.5 Z" fill="#d3efca"/><path d="M1394.4 806.25 C1402.78 806.25 1402.78 806.25 1411.15 806.25 L1411.15 853.5 C1402.78 853.5 1402.78 853.5 1394.4 853.5 Z" fill="#d3efca"/><path d="M1394.4 759 C1402.78 759 1402.78 570 1411.15 570 L1411.15 806.25 C1402.78 806.25 1402.78 806.25 1394.4 806.25 Z" fill="#dcedf3"/><path d="M1472.15 806.25 C1480.53 806.25 1480.53 806.25 1488.9 806.25 L1488.9 853.5 C1480.53 853.5 1480.53 853.5 1472.15 853.5 Z" fill="#d3efca"/><path d="M1549.9 806.25 C1558.28 806.25 1558.28 711.75 1566.65 711.75 L1566.65 853.5 C1558.28 853.5 1558.28 853.5 1549.9 853.5 Z" fill="#d3efca"/><path d="M1627.65 711.75 C1636.03 711.75 1636.03 806.25 1644.4 806.25 L1644.4 853.5 C1636.03 853.5 1636.03 853.5 1627.65 853.5 Z" fill="#d3efca"/><path d="M1705.4 806.25 C1713.78 806.25 1713.78 759 1722.15 759 L1722.15 853.5 C1713.78 853.5 1713.78 853.5 1705.4 853.5 Z" fill="#d3efca"/><path d="M1783.15 711.75 C1791.53 711.75 1791.53 759 1799.9 759 L1799.9 806.25 C1791.53 806.25 1791.53 759 1783.15 759 Z" fill="#dcedf3"/><rect x="1022.4" y="806.25" width="61" height="47.25" fill="#bfe8b3"/><rect x="1022.4" y="759" width="61" height="47.25" fill="#cce6ee"/><rect x="1100.15" y="806.25" width="61" height="47.25" fill="#bfe8b3"/><rect x="1100.15" y="759" width="61" height="47.25" fill="#cce6ee"/><rect x="1177.9" y="806.25" width="61" height="47.25" fill="#bfe8b3"/><rect x="1177.9" y="759" width="61" height="47.25" fill="#cce6ee"/><rect x="1255.65" y="806.25" width="61" height="47.25" fill="#bfe8b3"/><rect x="1333.4" y="806.25" width="61" height="47.25" fill="#bfe8b3"/><rect x="1333.4" y="759" width="61" height="47.25" fill="#cce6ee"/><rect x="1411.15" y="806.25" width="61" height="47.25" fill="#bfe8b3"/><rect x="1411.15" y="570" width="61" height="236.25" fill="#cce6ee"/><rect x="1488.9" y="806.25" width="61" height="47.25" fill="#bfe8b3"/><rect x="1566.65" y="711.75" width="61" height="141.75" fill="#bfe8b3"/><rect x="1566.65" y="617.25" width="61" height="94.5" fill="#cce6ee"/><rect x="1644.4" y="806.25" width="61" height="47.25" fill="#bfe8b3"/><rect x="1722.15" y="759" width="61" height="94.5" fill="#bfe8b3"/><rect x="1722.15" y="711.75" width="61" height="47.25" fill="#cce6ee"/><rect x="1799.9" y="806.25" width="61" height="47.25" fill="#efc0c3"/><rect x="1799.9" y="759" width="61" height="47.25" fill="#cce6ee"/><rect x="1877.65" y="570" width="61" height="283.5" fill="#bfe8b3"/><path d="M990 853.5 H1965" stroke="#8fc0f3" stroke-width="4" stroke-dasharray="9 8.300"/></svg>
<span class="t" style="left:963.5px;top:842.23px;font-size:23px;color:#605e5c;">0</span>
<span class="t" style="left:963.5px;top:747.73px;font-size:23px;color:#605e5c;">2</span>
<span class="t" style="left:963.5px;top:653.23px;font-size:23px;color:#605e5c;">4</span>
<span class="t" style="left:963.5px;top:558.73px;font-size:23px;color:#605e5c;">6</span>
<span class="t" style="left:1038.6px;top:863.45px;font-size:22.5px;color:#605e5c;transform:scaleX(0.79);">Jan</span>
<span class="t" style="left:1115.15px;top:863.45px;font-size:22.5px;color:#605e5c;transform:scaleX(0.8);">Feb</span>
<span class="t" style="left:1191.05px;top:863.45px;font-size:22.5px;color:#605e5c;transform:scaleX(0.9);">Mar</span>
<span class="t" style="left:1270.35px;top:863.45px;font-size:22.5px;color:#605e5c;transform:scaleX(0.9);">Apr</span>
<span class="t" style="left:1345px;top:863.45px;font-size:22.5px;color:#605e5c;transform:scaleX(0.89);">May</span>
<span class="t" style="left:1426.85px;top:863.45px;font-size:22.5px;color:#605e5c;transform:scaleX(0.82);">Jun</span>
<span class="t" style="left:1507.65px;top:863.45px;font-size:22.5px;color:#605e5c;transform:scaleX(0.82);">Jul</span>
<span class="t" style="left:1579.3px;top:863.45px;font-size:22.5px;color:#605e5c;transform:scaleX(0.89);">Aug</span>
<span class="t" style="left:1658.9px;top:863.45px;font-size:22.5px;color:#605e5c;transform:scaleX(0.8);">Sep</span>
<span class="t" style="left:1737.15px;top:863.45px;font-size:22.5px;color:#605e5c;transform:scaleX(0.89);">Oct</span>
<span class="t" style="left:1812.4px;top:863.45px;font-size:22.5px;color:#605e5c;transform:scaleX(0.9);">Nov</span>
<span class="t" style="left:1891.15px;top:863.45px;font-size:22.5px;color:#605e5c;transform:scaleX(0.85);">Dec</span>
<span class="t" style="left:1446.5px;top:888.68px;font-size:24px;color:#252423;-webkit-text-stroke:0.7px;transform:scaleX(1);">Month</span>
<div style="left:1125.8px;top:931.5px;width:16px;height:16px;background:#efc0c3;border-radius:50%;"></div>
<span class="t" style="left:1146.5px;top:928.03px;font-size:23px;color:#605e5c;transform:scaleX(0.95);">Returned Shipments</span>
<div style="left:1358px;top:931.5px;width:16px;height:16px;background:#bfe8b3;border-radius:50%;"></div>
<span class="t" style="left:1378.8px;top:928.03px;font-size:23px;color:#605e5c;transform:scaleX(0.97);">Completed Shipments</span>
<div style="left:1609px;top:931.5px;width:16px;height:16px;background:#cce6ee;border-radius:50%;"></div>
<span class="t" style="left:1629.7px;top:928.03px;font-size:23px;color:#605e5c;transform:scaleX(0.96);">Active Shipments</span>
<div style="left:1636px;top:436.4px;width:342.7px;height:83.1px;background:#fff;border:2px solid #b3b3b3;box-sizing:border-box;"></div>
<div style="left:1646px;top:446px;width:153.7px;height:62px;background:#0d69c2;border-left:3px solid #dfe9f7;box-sizing:border-box;"></div>
<span class="t" style="left:1690px;top:467.48px;font-size:24px;color:#fff;-webkit-text-stroke:0.48px;transform:scaleX(0.97);">Month</span>
<span class="t" style="left:1867px;top:467.48px;font-size:24px;color:#252423;-webkit-text-stroke:0.48px;transform:scaleX(0.96);">Year</span>
<span class="t" style="left:1987.7px;top:513.3px;font-size:28px;color:#252423;-webkit-text-stroke:0.56px;transform:scaleX(0.98);">Revenue by Month</span>
<svg style="left:0px;top:0px;" width="3094" height="1000" viewBox="0 0 3094 1000"><path d="M2040 945.4 H2990" stroke="#d9d9d9" stroke-width="1.600" stroke-dasharray="1.600 6.800"/><path d="M2040 850.17 H2990" stroke="#d9d9d9" stroke-width="1.600" stroke-dasharray="1.600 6.800"/><path d="M2040 754.94 H2990" stroke="#d9d9d9" stroke-width="1.600" stroke-dasharray="1.600 6.800"/><path d="M2040 659.71 H2990" stroke="#d9d9d9" stroke-width="1.600" stroke-dasharray="1.600 6.800"/><path d="M2040 564.48 H2990" stroke="#d9d9d9" stroke-width="1.600" stroke-dasharray="1.600 6.800"/><path d="M2070.5 915.8 C2095.17 916.29 2119.85 915.88 2144.52 917.4 C2169.19 918.92 2193.87 925.8 2218.54 925.8 C2243.21 925.8 2267.89 887 2292.56 887 C2317.23 887 2341.91 928.5 2366.58 928.5 C2391.25 928.5 2415.93 897.27 2440.6 896 C2465.27 894.73 2489.95 895.82 2514.62 891.4 C2539.29 886.98 2563.97 767.2 2588.64 767.2 C2613.31 767.2 2637.99 855.3 2662.66 855.3 C2687.33 855.3 2712.01 810.78 2736.68 764 C2761.35 717.22 2786.03 637.73 2810.7 574.6 L2810.7 945.4 L2070.5 945.4 Z" fill="#e6f4e1"/><path d="M2070.5 915.8 C2095.17 916.29 2119.85 915.88 2144.52 917.4 C2169.19 918.92 2193.87 925.8 2218.54 925.8 C2243.21 925.8 2267.89 887 2292.56 887 C2317.23 887 2341.91 928.5 2366.58 928.5 C2391.25 928.5 2415.93 897.27 2440.6 896 C2465.27 894.73 2489.95 895.82 2514.62 891.4 C2539.29 886.98 2563.97 767.2 2588.64 767.2 C2613.31 767.2 2637.99 855.3 2662.66 855.3 C2687.33 855.3 2712.01 810.78 2736.68 764 C2761.35 717.22 2786.03 637.73 2810.7 574.6" fill="none" stroke="#bfe8b3" stroke-width="5" stroke-linejoin="round"/><circle cx="2070.5" cy="915.8" r="6.500" fill="#bfe8b3"/><circle cx="2144.52" cy="917.4" r="6.500" fill="#bfe8b3"/><circle cx="2218.54" cy="925.8" r="6.500" fill="#bfe8b3"/><circle cx="2292.56" cy="887" r="6.500" fill="#bfe8b3"/><circle cx="2366.58" cy="928.5" r="6.500" fill="#bfe8b3"/><circle cx="2440.6" cy="896" r="6.500" fill="#bfe8b3"/><circle cx="2514.62" cy="891.4" r="6.500" fill="#bfe8b3"/><circle cx="2588.64" cy="767.2" r="6.500" fill="#bfe8b3"/><circle cx="2662.66" cy="855.3" r="6.500" fill="#bfe8b3"/><circle cx="2736.68" cy="764" r="6.500" fill="#bfe8b3"/><circle cx="2810.7" cy="574.6" r="6.500" fill="#bfe8b3"/></svg>
<span class="t" style="left:1988.2px;top:934.85px;font-size:20.5px;color:#5a5a5a;font-weight:700;transform:scaleX(0.95);">$0K</span>
<span class="t" style="left:1988.2px;top:839.62px;font-size:20.5px;color:#5a5a5a;font-weight:700;transform:scaleX(0.95);">$1K</span>
<span class="t" style="left:1988.2px;top:744.39px;font-size:20.5px;color:#5a5a5a;font-weight:700;transform:scaleX(0.95);">$2K</span>
<span class="t" style="left:1988.2px;top:649.16px;font-size:20.5px;color:#5a5a5a;font-weight:700;transform:scaleX(0.95);">$3K</span>
<span class="t" style="left:1988.2px;top:553.93px;font-size:20.5px;color:#5a5a5a;font-weight:700;transform:scaleX(0.95);">$4K</span>
<span class="t" style="left:2054px;top:954.95px;font-size:20.5px;color:#5a5a5a;font-weight:700;transform:scaleX(0.93);">Jan</span>
<span class="t" style="left:2127.52px;top:954.95px;font-size:20.5px;color:#5a5a5a;font-weight:700;transform:scaleX(0.93);">Feb</span>
<span class="t" style="left:2199.54px;top:954.95px;font-size:20.5px;color:#5a5a5a;font-weight:700;transform:scaleX(1.04);">Mar</span>
<span class="t" style="left:2275.06px;top:954.95px;font-size:20.5px;color:#5a5a5a;font-weight:700;transform:scaleX(0.99);">Apr</span>
<span class="t" style="left:2346.08px;top:954.95px;font-size:20.5px;color:#5a5a5a;font-weight:700;transform:scaleX(1.03);">May</span>
<span class="t" style="left:2423.6px;top:954.95px;font-size:20.5px;color:#5a5a5a;font-weight:700;transform:scaleX(0.93);">Jun</span>
<span class="t" style="left:2501.12px;top:954.95px;font-size:20.5px;color:#5a5a5a;font-weight:700;transform:scaleX(0.91);">Jul</span>
<span class="t" style="left:2569.14px;top:954.95px;font-size:20.5px;color:#5a5a5a;font-weight:700;transform:scaleX(0.98);">Aug</span>
<span class="t" style="left:2645.16px;top:954.95px;font-size:20.5px;color:#5a5a5a;font-weight:700;transform:scaleX(0.93);">Sep</span>
<span class="t" style="left:2720.18px;top:954.95px;font-size:20.5px;color:#5a5a5a;font-weight:700;transform:scaleX(0.97);">Oct</span>
<span class="t" style="left:2793.2px;top:954.95px;font-size:20.5px;color:#5a5a5a;font-weight:700;transform:scaleX(0.93);">Dec</span>
<div style="left:2576px;top:436px;width:430px;height:78px;background:#fff;border:2px solid #b3b3b3;box-sizing:border-box;"></div>
<div style="left:2586.5px;top:446.5px;width:117.5px;height:56.5px;background:#0d69c2;border-left:3px solid #dfe9f7;box-sizing:border-box;"></div>
<span class="t" style="left:2614px;top:467.18px;font-size:24px;color:#fff;-webkit-text-stroke:0.48px;transform:scaleX(0.99);">Month</span>
<span class="t" style="left:2756px;top:467.18px;font-size:24px;color:#252423;-webkit-text-stroke:0.48px;transform:scaleX(0.97);">Year</span>
<div style="left:1088px;top:1170.7px;width:16px;height:16px;background:#a5c6a5;transform:rotate(5deg);"></div>
<span class="t" style="left:1031.6px;top:1253.94px;font-size:48.5px;color:#252423;-webkit-text-stroke:0.97px;">$26K</span>
<div style="left:1274px;top:995.8px;width:51.2px;height:35.2px;background:#8aaed3;border-radius:17.6px;"></div>
<div style="left:1274px;top:1128px;width:51.2px;height:26.8px;background:#efc0c3;border-radius:13.4px;"></div>
<div style="left:1274px;top:1243.9px;width:51.2px;height:29.1px;background:#a5c6a5;border-radius:14.55px;"></div>
<div style="left:1274px;top:1383.5px;width:51.2px;height:28px;background:#b5b5b5;border-radius:14px;"></div>
<span class="t" style="left:1333px;top:998.63px;font-size:29.5px;color:#252423;-webkit-text-stroke:0.59px;transform:scaleX(0.97);">(Blank)</span>
<span class="t" style="left:1333px;top:1144.93px;font-size:29.5px;color:#252423;-webkit-text-stroke:0.59px;transform:scaleX(0.97);">(Blank)</span>
<span class="t" style="left:1333px;top:1392.63px;font-size:29.5px;color:#252423;-webkit-text-stroke:0.59px;transform:scaleX(0.97);">(Blank)</span>
<span class="t" style="left:1347.4px;top:1265.63px;font-size:29.5px;color:#252423;-webkit-text-stroke:0.59px;transform:scaleX(0.92);">2.60%</span>
<span class="t" style="left:1326.5px;top:1050.45px;font-size:22.5px;color:#6a6a6a;transform:scaleX(0.94);">Electronics</span>
<span class="t" style="left:1350px;top:1195.75px;font-size:22.5px;color:#6a6a6a;">Audio</span>
<span class="t" style="left:1331px;top:1316.45px;font-size:22.5px;color:#6a6a6a;transform:scaleX(1.01);">Computing</span>
<span class="t" style="left:1294px;top:1443.95px;font-size:22.5px;color:#6a6a6a;transform:scaleX(0.99);">Office Equipment</span>
<span class="t" style="left:1483.6px;top:994.87px;font-size:28.5px;color:#252423;-webkit-text-stroke:0.57px;transform:scaleX(0.98);">Avg Delivery Time by Geography</span>
<svg style="left:0px;top:0px;" width="3094" height="1500" viewBox="0 0 3094 1500"><path d="M1554.3 1043 V1383" stroke="#d4d4d4" stroke-width="1.600" stroke-dasharray="1.600 6.800"/><path d="M1706.8 1043 V1383" stroke="#d4d4d4" stroke-width="1.600" stroke-dasharray="1.600 6.800"/><path d="M1859.2 1043 V1383" stroke="#d4d4d4" stroke-width="1.600" stroke-dasharray="1.600 6.800"/><rect x="1554" y="1175.600" width="364.500" height="71.200" fill="#fdbecb"/><rect x="1860.800" y="1195" width="50.200" height="32.500" rx="7" fill="#e8aebb"/></svg>
<span class="t" style="left:1874.5px;top:1201.15px;font-size:20.5px;color:#fff;font-weight:700;transform:scaleX(1.01);">24</span>
<span class="t" style="left:1491px;top:1202.65px;font-size:20.5px;color:#6a6a6a;transform:scaleX(0.92);">Brazil</span>
<span class="t" style="left:1548.04px;top:1389.95px;font-size:22.5px;color:#5f5f5f;">0</span>
<span class="t" style="left:1694.29px;top:1389.95px;font-size:22.5px;color:#5f5f5f;">10</span>
<span class="t" style="left:1846.69px;top:1389.95px;font-size:22.5px;color:#5f5f5f;">20</span>
<div style="left:1481px;top:1432px;width:13px;height:62px;background:#eceff9;"></div>
<div style="left:1969px;top:1432px;width:9px;height:62px;background:#eceff9;"></div>
<div style="left:1474px;top:1432px;width:7.5px;height:48px;background:#fff;"></div>
<div style="left:1486px;top:1432px;width:492px;height:60.5px;background:#fff;border-radius:0 0 0 0;"></div>
<div style="left:1480.5px;top:1432px;width:12px;height:60.5px;background:#eceff9;"></div>
<div style="left:1971px;top:1432px;width:7px;height:60.5px;background:#eceff9;"></div>
<div style="left:1498px;top:1446px;width:105px;height:43px;background:#bfe8b3;border-radius:22px;"></div>
<div style="left:1650px;top:1446px;width:119px;height:43px;background:#cce6ee;border-radius:22px;"></div>
<div style="left:1790px;top:1446px;width:121.4px;height:50px;background:#efc0c3;border-radius:22px 22px 24px 24px;"></div>
<span class="t" style="left:1514.5px;top:1459.18px;font-size:24px;color:#252423;transform:scaleX(0.89);">Perfect</span>
<span class="t" style="left:1690px;top:1459.18px;font-size:24px;color:#252423;transform:scaleX(0.83);">Fine</span>
<span class="t" style="left:1810px;top:1459.18px;font-size:24px;color:#252423;transform:scaleX(0.92);">Too Long</span>
<div style="left:1914.3px;top:1454.5px;width:13.5px;height:26.3px;background:#c6c6c6;"></div>
<span class="t" style="left:2066px;top:1011.53px;font-size:23px;color:#333;transform:scaleX(0.9);">Sales Person</span>
<span class="t" style="left:2299px;top:1011.53px;font-size:23px;color:#333;transform:scaleX(0.96);">Shipments</span>
<span class="t" style="left:2423px;top:1011.53px;font-size:23px;color:#333;transform:scaleX(0.96);">Active</span>
<span class="t" style="left:2502px;top:1011.53px;font-size:23px;color:#333;transform:scaleX(0.98);">Completed</span>
<span class="t" style="left:2630.6px;top:1011.53px;font-size:23px;color:#333;transform:scaleX(0.94);">Returned</span>
<svg style="left:1997px;top:1037px;" width="16" height="9" viewBox="0 0 16 9"><path d="M0 8.500 L7.500 0.500 L15 8.500z" fill="#222"/></svg>
<div style="left:1989px;top:1051.5px;width:742.6px;height:1.5px;background:#e6e6e6;"></div>
<div style="left:1988px;top:1053px;width:841px;height:429px;overflow:hidden;background:#fff;">
<svg style="left:0;top:0;" width="841" height="429" viewBox="0 0 841 429"><rect x="514.5" y="2" width="54.9" height="50.500" fill="#abebba"/><path d="M514.3 -0.5 V55" stroke="#333" stroke-width="1.300" stroke-dasharray="1.500 1.500"/><clipPath id="av1"><circle cx="33" cy="26.2" r="24.200"/></clipPath><g clip-path="url(#av1)"><rect x="8.8" y="2" width="49" height="49" fill="#e4e6e8"/><ellipse cx="33" cy="31.2" rx="18.500" ry="27" fill="#4a3428"/><ellipse cx="33" cy="55.2" rx="21" ry="8" fill="#d8d4d0"/><rect x="27.5" y="40.2" width="11" height="10" fill="#cfa68a"/><ellipse cx="33" cy="29.7" rx="12.600" ry="16.500" fill="#e6b99a"/><path d="M20.5 19.7 q12.5 -5 25 0 q-3 -9 -12.500 -9 t-12.500 9z" fill="#4a3428"/><ellipse cx="27.7" cy="27.7" rx="2.100" ry="1.100" fill="#504035"/><ellipse cx="38.3" cy="27.7" rx="2.100" ry="1.100" fill="#504035"/><ellipse cx="33" cy="38.7" rx="3.400" ry="1.200" fill="#a5856e"/><ellipse cx="33" cy="33.7" rx="1.800" ry="0.900" fill="#c39d82"/></g><path d="M314 26.4 L380.7 26.4" fill="none" stroke="#118dff" stroke-width="1.700"/><rect x="435" y="57.85" width="61.52" height="50.500" fill="#cfe5f2"/><rect x="514.5" y="57.85" width="36.6" height="50.500" fill="#abebba"/><path d="M434.9 55.35 V110.85" stroke="#333" stroke-width="1.300" stroke-dasharray="1.500 1.500"/><path d="M514.3 55.35 V110.85" stroke="#333" stroke-width="1.300" stroke-dasharray="1.500 1.500"/><clipPath id="av2"><circle cx="33" cy="82.05" r="24.200"/></clipPath><g clip-path="url(#av2)"><rect x="8.8" y="57.85" width="49" height="49" fill="#dcd6d0"/><ellipse cx="33" cy="78.05" rx="15.500" ry="18" fill="#1f1a17"/><ellipse cx="33" cy="111.05" rx="21" ry="8" fill="#c8c4c0"/><rect x="27.5" y="96.05" width="11" height="10" fill="#b48866"/><ellipse cx="33" cy="85.55" rx="12.600" ry="16.500" fill="#c99872"/><path d="M20.5 75.55 q12.5 -7 25 0 q-3 -9 -12.500 -9 t-12.500 9z" fill="#1f1a17"/><ellipse cx="27.7" cy="83.55" rx="2.100" ry="1.100" fill="#463527"/><ellipse cx="38.3" cy="83.55" rx="2.100" ry="1.100" fill="#463527"/><ellipse cx="33" cy="94.55" rx="3.400" ry="1.200" fill="#906d52"/><ellipse cx="33" cy="89.55" rx="1.800" ry="0.900" fill="#aa8160"/></g><path d="M314 61.55 L330.7 105.25 L380.7 105.25" fill="none" stroke="#118dff" stroke-width="1.700"/><rect x="435" y="113.7" width="15.38" height="50.500" fill="#cfe5f2"/><rect x="514.5" y="113.7" width="54.9" height="50.500" fill="#abebba"/><rect x="643" y="113.7" width="45.9" height="50.500" fill="#f3c6ca"/><path d="M434.9 111.2 V166.7" stroke="#333" stroke-width="1.300" stroke-dasharray="1.500 1.500"/><path d="M514.3 111.2 V166.7" stroke="#333" stroke-width="1.300" stroke-dasharray="1.500 1.500"/><path d="M642.6 111.2 V166.7" stroke="#333" stroke-width="1.300" stroke-dasharray="1.500 1.500"/><clipPath id="av3"><circle cx="33" cy="137.9" r="24.200"/></clipPath><g clip-path="url(#av3)"><rect x="8.8" y="113.7" width="49" height="49" fill="#8f7f6a"/><ellipse cx="33" cy="142.9" rx="18.500" ry="27" fill="#3a241a"/><ellipse cx="33" cy="166.9" rx="21" ry="8" fill="#b9b0a8"/><rect x="27.5" y="151.9" width="11" height="10" fill="#b0805f"/><ellipse cx="33" cy="141.4" rx="12.600" ry="16.500" fill="#c48f6a"/><path d="M20.5 131.4 q12.5 -5 25 0 q-3 -9 -12.500 -9 t-12.500 9z" fill="#3a241a"/><ellipse cx="27.7" cy="139.4" rx="2.100" ry="1.100" fill="#443225"/><ellipse cx="38.3" cy="139.4" rx="2.100" ry="1.100" fill="#443225"/><ellipse cx="33" cy="150.4" rx="3.400" ry="1.200" fill="#8d664c"/><ellipse cx="33" cy="145.4" rx="1.800" ry="0.900" fill="#a6795a"/></g><path d="M314 117.2 L413.8 160.7" fill="none" stroke="#118dff" stroke-width="1.700"/><rect x="435" y="169.55" width="15.38" height="50.500" fill="#cfe5f2"/><rect x="514.5" y="169.55" width="73.2" height="50.500" fill="#abebba"/><path d="M434.9 167.05 V222.55" stroke="#333" stroke-width="1.300" stroke-dasharray="1.500 1.500"/><path d="M514.3 167.05 V222.55" stroke="#333" stroke-width="1.300" stroke-dasharray="1.500 1.500"/><clipPath id="av4"><circle cx="33" cy="193.75" r="24.200"/></clipPath><g clip-path="url(#av4)"><rect x="8.8" y="169.55" width="49" height="49" fill="#d6d0c8"/><ellipse cx="33" cy="198.75" rx="18.500" ry="27" fill="#8a6a4a"/><ellipse cx="33" cy="222.75" rx="21" ry="8" fill="#cfc8c0"/><rect x="27.5" y="207.75" width="11" height="10" fill="#cba287"/><ellipse cx="33" cy="197.25" rx="12.600" ry="16.500" fill="#e2b596"/><path d="M20.5 187.25 q12.5 -5 25 0 q-3 -9 -12.500 -9 t-12.500 9z" fill="#8a6a4a"/><ellipse cx="27.7" cy="195.25" rx="2.100" ry="1.100" fill="#4f3f34"/><ellipse cx="38.3" cy="195.25" rx="2.100" ry="1.100" fill="#4f3f34"/><ellipse cx="33" cy="206.25" rx="3.400" ry="1.200" fill="#a2826c"/><ellipse cx="33" cy="201.25" rx="1.800" ry="0.900" fill="#c0997f"/></g><path d="M314 173.15 L380.7 216.85 L413.8 216.85" fill="none" stroke="#118dff" stroke-width="1.700"/><rect x="435" y="225.4" width="30.76" height="50.500" fill="#cfe5f2"/><rect x="514.5" y="225.4" width="36.6" height="50.500" fill="#abebba"/><rect x="643" y="225.4" width="45.9" height="50.500" fill="#f3c6ca"/><path d="M434.9 222.9 V278.4" stroke="#333" stroke-width="1.300" stroke-dasharray="1.500 1.500"/><path d="M514.3 222.9 V278.4" stroke="#333" stroke-width="1.300" stroke-dasharray="1.500 1.500"/><path d="M642.6 222.9 V278.4" stroke="#333" stroke-width="1.300" stroke-dasharray="1.500 1.500"/><clipPath id="av5"><circle cx="33" cy="249.6" r="24.200"/></clipPath><g clip-path="url(#av5)"><rect x="8.8" y="225.4" width="49" height="49" fill="#d2d0cc"/><ellipse cx="33" cy="245.6" rx="15.500" ry="18" fill="#4a3a30"/><ellipse cx="33" cy="278.6" rx="21" ry="8" fill="#bfbab6"/><rect x="27.5" y="263.6" width="11" height="10" fill="#c39b7f"/><ellipse cx="33" cy="253.1" rx="12.600" ry="16.500" fill="#d9ad8e"/><path d="M20.5 243.1 q12.5 -7 25 0 q-3 -9 -12.500 -9 t-12.500 9z" fill="#4a3a30"/><ellipse cx="27.7" cy="251.1" rx="2.100" ry="1.100" fill="#4b3c31"/><ellipse cx="38.3" cy="251.1" rx="2.100" ry="1.100" fill="#4b3c31"/><ellipse cx="33" cy="262.1" rx="3.400" ry="1.200" fill="#9c7c66"/><ellipse cx="33" cy="257.1" rx="1.800" ry="0.900" fill="#b89378"/></g><path d="M314 228.8 L347.6 272.4" fill="none" stroke="#118dff" stroke-width="1.700"/><rect x="435" y="281.25" width="61.52" height="50.500" fill="#cfe5f2"/><rect x="514.5" y="281.25" width="73.2" height="50.500" fill="#abebba"/><path d="M434.9 278.75 V334.25" stroke="#333" stroke-width="1.300" stroke-dasharray="1.500 1.500"/><path d="M514.3 278.75 V334.25" stroke="#333" stroke-width="1.300" stroke-dasharray="1.500 1.500"/><clipPath id="av6"><circle cx="33" cy="305.45" r="24.200"/></clipPath><g clip-path="url(#av6)"><rect x="8.8" y="281.25" width="49" height="49" fill="#e6e2de"/><ellipse cx="33" cy="310.45" rx="18.500" ry="27" fill="#1c1513"/><ellipse cx="33" cy="334.45" rx="21" ry="8" fill="#2a2a2a"/><rect x="27.5" y="319.45" width="11" height="10" fill="#ad7e5e"/><ellipse cx="33" cy="308.95" rx="12.600" ry="16.500" fill="#c18c69"/><path d="M20.5 298.95 q12.5 -5 25 0 q-3 -9 -12.500 -9 t-12.500 9z" fill="#1c1513"/><ellipse cx="27.7" cy="306.95" rx="2.100" ry="1.100" fill="#433124"/><ellipse cx="38.3" cy="306.95" rx="2.100" ry="1.100" fill="#433124"/><ellipse cx="33" cy="317.95" rx="3.400" ry="1.200" fill="#8a644b"/><ellipse cx="33" cy="312.95" rx="1.800" ry="0.900" fill="#a47759"/></g><path d="M314 284.95 L380.7 328.05" fill="none" stroke="#118dff" stroke-width="1.700"/><rect x="435" y="337.1" width="46.14" height="50.500" fill="#cfe5f2"/><rect x="514.5" y="337.1" width="73.2" height="50.500" fill="#abebba"/><path d="M434.9 334.6 V390.1" stroke="#333" stroke-width="1.300" stroke-dasharray="1.500 1.500"/><path d="M514.3 334.6 V390.1" stroke="#333" stroke-width="1.300" stroke-dasharray="1.500 1.500"/><clipPath id="av7"><circle cx="33" cy="361.3" r="24.200"/></clipPath><g clip-path="url(#av7)"><rect x="8.8" y="337.1" width="49" height="49" fill="#d8d8d8"/><ellipse cx="33" cy="357.3" rx="15.500" ry="18" fill="#1a1614"/><ellipse cx="33" cy="390.3" rx="21" ry="8" fill="#8a8a8a"/><rect x="27.5" y="375.3" width="11" height="10" fill="#a57c5d"/><ellipse cx="33" cy="364.8" rx="12.600" ry="16.500" fill="#b88a68"/><path d="M20.5 354.8 q12.5 -7 25 0 q-3 -9 -12.500 -9 t-12.500 9z" fill="#1a1614"/><ellipse cx="27.7" cy="362.8" rx="2.100" ry="1.100" fill="#403024"/><ellipse cx="38.3" cy="362.8" rx="2.100" ry="1.100" fill="#403024"/><ellipse cx="33" cy="373.8" rx="3.400" ry="1.200" fill="#84634a"/><ellipse cx="33" cy="368.8" rx="1.800" ry="0.900" fill="#9c7558"/></g><path d="M314 340.3 L330.7 383.9 L413.8 383.9" fill="none" stroke="#118dff" stroke-width="1.700"/><rect x="435" y="392.95" width="30.76" height="50.500" fill="#cfe5f2"/><rect x="514.5" y="392.95" width="73.2" height="50.500" fill="#abebba"/><path d="M434.9 390.45 V445.95" stroke="#333" stroke-width="1.300" stroke-dasharray="1.500 1.500"/><path d="M514.3 390.45 V445.95" stroke="#333" stroke-width="1.300" stroke-dasharray="1.500 1.500"/><clipPath id="av8"><circle cx="33" cy="417.15" r="24.200"/></clipPath><g clip-path="url(#av8)"><rect x="8.8" y="392.95" width="49" height="49" fill="#dedcda"/><ellipse cx="33" cy="422.15" rx="18.500" ry="27" fill="#15110f"/><ellipse cx="33" cy="446.15" rx="21" ry="8" fill="#e8e4e0"/><rect x="27.5" y="431.15" width="11" height="10" fill="#af8364"/><ellipse cx="33" cy="420.65" rx="12.600" ry="16.500" fill="#c39270"/><path d="M20.5 410.65 q12.5 -5 25 0 q-3 -9 -12.500 -9 t-12.500 9z" fill="#15110f"/><ellipse cx="27.7" cy="418.65" rx="2.100" ry="1.100" fill="#443327"/><ellipse cx="38.3" cy="418.65" rx="2.100" ry="1.100" fill="#443327"/><ellipse cx="33" cy="429.65" rx="3.400" ry="1.200" fill="#8c6950"/><ellipse cx="33" cy="424.65" rx="1.800" ry="0.900" fill="#a57c5f"/></g><path d="M314 396.45 L365.5 439.95" fill="none" stroke="#118dff" stroke-width="1.700"/></svg>
<span class="t" style="left:78px;top:7.23px;font-size:23px;color:#252423;transform:scaleX(0.93);">Laurie Figueroa</span>
<span class="t" style="left:280.21px;top:7.23px;font-size:23px;color:#252423;">3</span>
<span class="t" style="left:611.71px;top:7.23px;font-size:23px;color:#252423;">3</span>
<span class="t" style="left:78px;top:63.08px;font-size:23px;color:#252423;transform:scaleX(0.96);">Erin Arnold</span>
<span class="t" style="left:280.21px;top:63.08px;font-size:23px;color:#252423;">6</span>
<span class="t" style="left:483.71px;top:63.08px;font-size:23px;color:#252423;">4</span>
<span class="t" style="left:611.71px;top:63.08px;font-size:23px;color:#252423;">2</span>
<span class="t" style="left:78px;top:118.93px;font-size:23px;color:#252423;transform:scaleX(0.93);">Gabriel Vasquez</span>
<span class="t" style="left:280.21px;top:118.93px;font-size:23px;color:#252423;">5</span>
<span class="t" style="left:483.71px;top:118.93px;font-size:23px;color:#252423;">1</span>
<span class="t" style="left:611.71px;top:118.93px;font-size:23px;color:#252423;">3</span>
<span class="t" style="left:721.21px;top:118.93px;font-size:23px;color:#252423;">1</span>
<span class="t" style="left:78px;top:174.78px;font-size:23px;color:#252423;transform:scaleX(0.94);">Justin Bowman</span>
<span class="t" style="left:280.21px;top:174.78px;font-size:23px;color:#252423;">5</span>
<span class="t" style="left:483.71px;top:174.78px;font-size:23px;color:#252423;">1</span>
<span class="t" style="left:611.71px;top:174.78px;font-size:23px;color:#252423;">4</span>
<span class="t" style="left:78px;top:230.63px;font-size:23px;color:#252423;transform:scaleX(0.94);">Bonnie Lucero</span>
<span class="t" style="left:280.21px;top:230.63px;font-size:23px;color:#252423;">5</span>
<span class="t" style="left:483.71px;top:230.63px;font-size:23px;color:#252423;">2</span>
<span class="t" style="left:611.71px;top:230.63px;font-size:23px;color:#252423;">2</span>
<span class="t" style="left:721.21px;top:230.63px;font-size:23px;color:#252423;">1</span>
<span class="t" style="left:78px;top:286.48px;font-size:23px;color:#252423;transform:scaleX(0.94);">James Moore</span>
<span class="t" style="left:280.21px;top:286.48px;font-size:23px;color:#252423;">8</span>
<span class="t" style="left:483.71px;top:286.48px;font-size:23px;color:#252423;">4</span>
<span class="t" style="left:611.71px;top:286.48px;font-size:23px;color:#252423;">4</span>
<span class="t" style="left:78px;top:342.33px;font-size:23px;color:#252423;transform:scaleX(0.9);">Kayla Banks</span>
<span class="t" style="left:280.21px;top:342.33px;font-size:23px;color:#252423;">7</span>
<span class="t" style="left:483.71px;top:342.33px;font-size:23px;color:#252423;">3</span>
<span class="t" style="left:611.71px;top:342.33px;font-size:23px;color:#252423;">4</span>
<span class="t" style="left:78px;top:398.18px;font-size:23px;color:#252423;transform:scaleX(0.94);">Sandra Henderson</span>
<span class="t" style="left:280.21px;top:398.18px;font-size:23px;color:#252423;">6</span>
<span class="t" style="left:483.71px;top:398.18px;font-size:23px;color:#252423;">2</span>
<span class="t" style="left:611.71px;top:398.18px;font-size:23px;color:#252423;">4</span>
</div>
<div style="left:1988px;top:1488px;width:841px;height:219px;overflow:hidden;background:#fff;">
<svg style="left:0;top:0;" width="841" height="219" viewBox="0 0 841 219"><rect x="435" y="-7" width="30.76" height="50.500" fill="#cfe5f2"/><rect x="514.5" y="-7" width="73.2" height="50.500" fill="#abebba"/><path d="M434.9 -9.5 V46" stroke="#333" stroke-width="1.300" stroke-dasharray="1.500 1.500"/><path d="M514.3 -9.5 V46" stroke="#333" stroke-width="1.300" stroke-dasharray="1.500 1.500"/><clipPath id="av9"><circle cx="33" cy="17.2" r="24.200"/></clipPath><g clip-path="url(#av9)"><rect x="8.8" y="-7" width="49" height="49" fill="#dedcda"/><ellipse cx="33" cy="22.2" rx="18.500" ry="27" fill="#15110f"/><ellipse cx="33" cy="46.2" rx="21" ry="8" fill="#e8e4e0"/><rect x="27.5" y="31.2" width="11" height="10" fill="#af8364"/><ellipse cx="33" cy="20.7" rx="12.600" ry="16.500" fill="#c39270"/><path d="M20.5 10.7 q12.5 -5 25 0 q-3 -9 -12.500 -9 t-12.500 9z" fill="#15110f"/><ellipse cx="27.7" cy="18.7" rx="2.100" ry="1.100" fill="#443327"/><ellipse cx="38.3" cy="18.7" rx="2.100" ry="1.100" fill="#443327"/><ellipse cx="33" cy="29.7" rx="3.400" ry="1.200" fill="#8c6950"/><ellipse cx="33" cy="24.7" rx="1.800" ry="0.900" fill="#a57c5f"/></g><path d="M314 -3.5 L365.5 40" fill="none" stroke="#118dff" stroke-width="1.700"/><rect x="435" y="48.85" width="30.76" height="50.500" fill="#cfe5f2"/><rect x="514.5" y="48.85" width="54.9" height="50.500" fill="#abebba"/><path d="M434.9 46.35 V101.85" stroke="#333" stroke-width="1.300" stroke-dasharray="1.500 1.500"/><path d="M514.3 46.35 V101.85" stroke="#333" stroke-width="1.300" stroke-dasharray="1.500 1.500"/><clipPath id="av10"><circle cx="33" cy="73.05" r="24.200"/></clipPath><g clip-path="url(#av10)"><rect x="8.8" y="48.85" width="49" height="49" fill="#dedcda"/><ellipse cx="33" cy="69.05" rx="15.500" ry="18" fill="#231c18"/><ellipse cx="33" cy="102.05" rx="21" ry="8" fill="#8c8c8c"/><rect x="27.5" y="87.05" width="11" height="10" fill="#bd9476"/><ellipse cx="33" cy="76.55" rx="12.600" ry="16.500" fill="#d2a584"/><path d="M20.5 66.55 q12.5 -7 25 0 q-3 -9 -12.500 -9 t-12.500 9z" fill="#231c18"/><ellipse cx="27.7" cy="74.55" rx="2.100" ry="1.100" fill="#49392e"/><ellipse cx="38.3" cy="74.55" rx="2.100" ry="1.100" fill="#49392e"/><ellipse cx="33" cy="85.55" rx="3.400" ry="1.200" fill="#97765f"/><ellipse cx="33" cy="80.55" rx="1.800" ry="0.900" fill="#b28c70"/></g><path d="M314 52.35 L371.8 95.85 L413.8 95.85" fill="none" stroke="#118dff" stroke-width="1.700"/><rect x="435" y="104.7" width="61.52" height="50.500" fill="#cfe5f2"/><rect x="514.5" y="104.7" width="36.6" height="50.500" fill="#abebba"/><rect x="643" y="104.7" width="45.9" height="50.500" fill="#f3c6ca"/><path d="M434.9 102.2 V157.7" stroke="#333" stroke-width="1.300" stroke-dasharray="1.500 1.500"/><path d="M514.3 102.2 V157.7" stroke="#333" stroke-width="1.300" stroke-dasharray="1.500 1.500"/><path d="M642.6 102.2 V157.7" stroke="#333" stroke-width="1.300" stroke-dasharray="1.500 1.500"/><clipPath id="av11"><circle cx="33" cy="128.9" r="24.200"/></clipPath><g clip-path="url(#av11)"><rect x="8.8" y="104.7" width="49" height="49" fill="#dedcda"/><ellipse cx="33" cy="124.9" rx="15.500" ry="18" fill="#1c1715"/><ellipse cx="33" cy="157.9" rx="21" ry="8" fill="#2b2f3a"/><rect x="27.5" y="142.9" width="11" height="10" fill="#b48c6f"/><ellipse cx="33" cy="132.4" rx="12.600" ry="16.500" fill="#c99c7c"/><path d="M20.5 122.4 q12.5 -7 25 0 q-3 -9 -12.500 -9 t-12.500 9z" fill="#1c1715"/><ellipse cx="27.7" cy="130.4" rx="2.100" ry="1.100" fill="#46362b"/><ellipse cx="38.3" cy="130.4" rx="2.100" ry="1.100" fill="#46362b"/><ellipse cx="33" cy="141.4" rx="3.400" ry="1.200" fill="#907059"/><ellipse cx="33" cy="136.4" rx="1.800" ry="0.900" fill="#aa8469"/></g><path d="M314 108.2 L322.4 151.7 L405.4 151.7" fill="none" stroke="#118dff" stroke-width="1.700"/><rect x="435" y="160.55" width="30.76" height="50.500" fill="#cfe5f2"/><path d="M434.9 158.05 V213.55" stroke="#333" stroke-width="1.300" stroke-dasharray="1.500 1.500"/><clipPath id="av12"><circle cx="33" cy="184.75" r="24.200"/></clipPath><g clip-path="url(#av12)"><rect x="8.8" y="160.55" width="49" height="49" fill="#dedcda"/><ellipse cx="33" cy="180.75" rx="15.500" ry="18" fill="#2a201a"/><ellipse cx="33" cy="213.75" rx="21" ry="8" fill="#d0ccc8"/><rect x="27.5" y="198.75" width="11" height="10" fill="#b48663"/><ellipse cx="33" cy="188.25" rx="12.600" ry="16.500" fill="#c9956f"/><path d="M20.5 178.25 q12.5 -7 25 0 q-3 -9 -12.500 -9 t-12.500 9z" fill="#2a201a"/><ellipse cx="27.7" cy="186.25" rx="2.100" ry="1.100" fill="#463426"/><ellipse cx="38.3" cy="186.25" rx="2.100" ry="1.100" fill="#463426"/><ellipse cx="33" cy="197.25" rx="3.400" ry="1.200" fill="#906b4f"/><ellipse cx="33" cy="192.25" rx="1.800" ry="0.900" fill="#aa7e5e"/></g><path d="M314 184.95 L364.4 184.95" fill="none" stroke="#118dff" stroke-width="1.700"/><rect x="435" y="216.4" width="15.38" height="50.500" fill="#cfe5f2"/><path d="M434.9 213.9 V269.4" stroke="#333" stroke-width="1.300" stroke-dasharray="1.500 1.500"/></svg>
<span class="t" style="left:78px;top:-1.77px;font-size:23px;color:#252423;transform:scaleX(0.94);">Sandra Henderson</span>
<span class="t" style="left:280.21px;top:-1.77px;font-size:23px;color:#252423;">6</span>
<span class="t" style="left:483.71px;top:-1.77px;font-size:23px;color:#252423;">2</span>
<span class="t" style="left:611.71px;top:-1.77px;font-size:23px;color:#252423;">4</span>
<span class="t" style="left:78px;top:54.08px;font-size:23px;color:#252423;transform:scaleX(0.97);">Michelle Garrett</span>
<span class="t" style="left:280.21px;top:54.08px;font-size:23px;color:#252423;">5</span>
<span class="t" style="left:483.71px;top:54.08px;font-size:23px;color:#252423;">2</span>
<span class="t" style="left:611.71px;top:54.08px;font-size:23px;color:#252423;">3</span>
<span class="t" style="left:78px;top:109.93px;font-size:23px;color:#252423;transform:scaleX(0.95);">Catherine Roberts</span>
<span class="t" style="left:280.21px;top:109.93px;font-size:23px;color:#252423;">7</span>
<span class="t" style="left:483.71px;top:109.93px;font-size:23px;color:#252423;">4</span>
<span class="t" style="left:611.71px;top:109.93px;font-size:23px;color:#252423;">2</span>
<span class="t" style="left:721.21px;top:109.93px;font-size:23px;color:#252423;">1</span>
<span class="t" style="left:78px;top:165.78px;font-size:23px;color:#252423;transform:scaleX(0.96);">Jeffery Mills</span>
<span class="t" style="left:280.21px;top:165.78px;font-size:23px;color:#252423;">2</span>
<span class="t" style="left:483.71px;top:165.78px;font-size:23px;color:#252423;">2</span>
</div>
<div style="left:1988px;top:1708px;width:841px;height:225px;overflow:hidden;background:#fff;">
<svg style="left:0;top:0;" width="841" height="225" viewBox="0 0 841 225"><rect x="435" y="-25" width="30.76" height="50.500" fill="#cfe5f2"/><path d="M434.9 -27.5 V28" stroke="#333" stroke-width="1.300" stroke-dasharray="1.500 1.500"/><clipPath id="av13"><circle cx="33" cy="-0.8" r="24.200"/></clipPath><g clip-path="url(#av13)"><rect x="8.8" y="-25" width="49" height="49" fill="#dedcda"/><ellipse cx="33" cy="-4.8" rx="15.500" ry="18" fill="#2a201a"/><ellipse cx="33" cy="28.2" rx="21" ry="8" fill="#d0ccc8"/><rect x="27.5" y="13.2" width="11" height="10" fill="#b48663"/><ellipse cx="33" cy="2.7" rx="12.600" ry="16.500" fill="#c9956f"/><path d="M20.5 -7.3 q12.5 -7 25 0 q-3 -9 -12.500 -9 t-12.500 9z" fill="#2a201a"/><ellipse cx="27.7" cy="0.7" rx="2.100" ry="1.100" fill="#463426"/><ellipse cx="38.3" cy="0.7" rx="2.100" ry="1.100" fill="#463426"/><ellipse cx="33" cy="11.7" rx="3.400" ry="1.200" fill="#906b4f"/><ellipse cx="33" cy="6.7" rx="1.800" ry="0.900" fill="#aa7e5e"/></g><rect x="435" y="30.85" width="15.38" height="50.500" fill="#cfe5f2"/><path d="M434.9 28.35 V83.85" stroke="#333" stroke-width="1.300" stroke-dasharray="1.500 1.500"/><clipPath id="av14"><circle cx="33" cy="55.05" r="24.200"/></clipPath><g clip-path="url(#av14)"><rect x="8.8" y="30.85" width="49" height="49" fill="#dedcda"/><ellipse cx="33" cy="51.05" rx="15.500" ry="18" fill="#3b2c22"/><ellipse cx="33" cy="84.05" rx="21" ry="8" fill="#9a948e"/><rect x="27.5" y="69.05" width="11" height="10" fill="#c0977a"/><ellipse cx="33" cy="58.55" rx="12.600" ry="16.500" fill="#d6a888"/><path d="M20.5 48.55 q12.5 -7 25 0 q-3 -9 -12.500 -9 t-12.500 9z" fill="#3b2c22"/><ellipse cx="27.7" cy="56.55" rx="2.100" ry="1.100" fill="#4a3a2f"/><ellipse cx="38.3" cy="56.55" rx="2.100" ry="1.100" fill="#4a3a2f"/><ellipse cx="33" cy="67.55" rx="3.400" ry="1.200" fill="#9a7861"/><ellipse cx="33" cy="62.55" rx="1.800" ry="0.900" fill="#b58e73"/></g><circle cx="314" cy="55.25" r="3.800" fill="#118dff"/><rect x="435" y="86.7" width="46.14" height="50.500" fill="#cfe5f2"/><rect x="514.5" y="86.7" width="54.9" height="50.500" fill="#abebba"/><rect x="643" y="86.7" width="45.9" height="50.500" fill="#f3c6ca"/><path d="M434.9 84.2 V139.7" stroke="#333" stroke-width="1.300" stroke-dasharray="1.500 1.500"/><path d="M514.3 84.2 V139.7" stroke="#333" stroke-width="1.300" stroke-dasharray="1.500 1.500"/><path d="M642.6 84.2 V139.7" stroke="#333" stroke-width="1.300" stroke-dasharray="1.500 1.500"/><clipPath id="av15"><circle cx="33" cy="110.9" r="24.200"/></clipPath><g clip-path="url(#av15)"><rect x="8.8" y="86.7" width="49" height="49" fill="#cfcac4"/><ellipse cx="33" cy="106.9" rx="15.500" ry="18" fill="#17120f"/><ellipse cx="33" cy="139.9" rx="21" ry="8" fill="#7a7672"/><rect x="27.5" y="124.9" width="11" height="10" fill="#976d4f"/><ellipse cx="33" cy="114.4" rx="12.600" ry="16.500" fill="#a87a58"/><path d="M20.5 104.4 q12.5 -7 25 0 q-3 -9 -12.500 -9 t-12.500 9z" fill="#17120f"/><ellipse cx="27.7" cy="112.4" rx="2.100" ry="1.100" fill="#3a2a1e"/><ellipse cx="38.3" cy="112.4" rx="2.100" ry="1.100" fill="#3a2a1e"/><ellipse cx="33" cy="123.4" rx="3.400" ry="1.200" fill="#78573f"/><ellipse cx="33" cy="118.4" rx="1.800" ry="0.900" fill="#8e674a"/></g><path d="M314 90.2 L364.4 119.1 L405.4 133.3" fill="none" stroke="#118dff" stroke-width="1.700"/><rect x="435" y="142.55" width="30.76" height="50.500" fill="#cfe5f2"/><rect x="514.5" y="142.55" width="18.3" height="50.500" fill="#abebba"/><path d="M434.9 140.05 V195.55" stroke="#333" stroke-width="1.300" stroke-dasharray="1.500 1.500"/><path d="M514.3 140.05 V195.55" stroke="#333" stroke-width="1.300" stroke-dasharray="1.500 1.500"/><clipPath id="av16"><circle cx="33" cy="166.75" r="24.200"/></clipPath><g clip-path="url(#av16)"><rect x="8.8" y="142.55" width="49" height="49" fill="#dedcda"/><ellipse cx="33" cy="171.75" rx="18.500" ry="27" fill="#14100e"/><ellipse cx="33" cy="195.75" rx="21" ry="8" fill="#e4e0dc"/><rect x="27.5" y="180.75" width="11" height="10" fill="#d0ac93"/><ellipse cx="33" cy="170.25" rx="12.600" ry="16.500" fill="#e8c0a4"/><path d="M20.5 160.25 q12.5 -5 25 0 q-3 -9 -12.500 -9 t-12.500 9z" fill="#14100e"/><ellipse cx="27.7" cy="168.25" rx="2.100" ry="1.100" fill="#514339"/><ellipse cx="38.3" cy="168.25" rx="2.100" ry="1.100" fill="#514339"/><ellipse cx="33" cy="179.25" rx="3.400" ry="1.200" fill="#a78a76"/><ellipse cx="33" cy="174.25" rx="1.800" ry="0.900" fill="#c5a38b"/></g><path d="M314 146.05 L339 189.55" fill="none" stroke="#118dff" stroke-width="1.700"/><rect x="514.5" y="198.4" width="109.8" height="50.500" fill="#abebba"/><path d="M514.3 195.9 V251.4" stroke="#333" stroke-width="1.300" stroke-dasharray="1.500 1.500"/><clipPath id="av17"><circle cx="33" cy="222.6" r="24.200"/></clipPath><g clip-path="url(#av17)"><rect x="8.8" y="198.4" width="49" height="49" fill="#dad8d6"/><ellipse cx="33" cy="218.6" rx="15.500" ry="18" fill="#120e0c"/><ellipse cx="33" cy="251.6" rx="21" ry="8" fill="#3a3a3a"/><rect x="27.5" y="236.6" width="11" height="10" fill="#7c553d"/><ellipse cx="33" cy="226.1" rx="12.600" ry="16.500" fill="#8a5f44"/><path d="M20.5 216.1 q12.5 -7 25 0 q-3 -9 -12.500 -9 t-12.500 9z" fill="#120e0c"/><ellipse cx="27.7" cy="224.1" rx="2.100" ry="1.100" fill="#302117"/><ellipse cx="38.3" cy="224.1" rx="2.100" ry="1.100" fill="#302117"/><ellipse cx="33" cy="235.1" rx="3.400" ry="1.200" fill="#634430"/><ellipse cx="33" cy="230.1" rx="1.800" ry="0.900" fill="#755039"/></g><path d="M314 201.9 L322.4 245.4 L413.8 245.4" fill="none" stroke="#118dff" stroke-width="1.700"/></svg>
<span class="t" style="left:78px;top:36.08px;font-size:23px;color:#252423;transform:scaleX(0.92);">Stacey Brown</span>
<span class="t" style="left:280.21px;top:36.08px;font-size:23px;color:#252423;">1</span>
<span class="t" style="left:483.71px;top:36.08px;font-size:23px;color:#252423;">1</span>
<span class="t" style="left:78px;top:91.93px;font-size:23px;color:#252423;transform:scaleX(0.91);">Jeffrey Sims</span>
<span class="t" style="left:280.21px;top:91.93px;font-size:23px;color:#252423;">7</span>
<span class="t" style="left:483.71px;top:91.93px;font-size:23px;color:#252423;">3</span>
<span class="t" style="left:611.71px;top:91.93px;font-size:23px;color:#252423;">3</span>
<span class="t" style="left:721.21px;top:91.93px;font-size:23px;color:#252423;">1</span>
<span class="t" style="left:78px;top:147.78px;font-size:23px;color:#252423;transform:scaleX(0.93);">Candace Harris</span>
<span class="t" style="left:280.21px;top:147.78px;font-size:23px;color:#252423;">3</span>
<span class="t" style="left:483.71px;top:147.78px;font-size:23px;color:#252423;">2</span>
<span class="t" style="left:611.71px;top:147.78px;font-size:23px;color:#252423;">1</span>
<span class="t" style="left:78px;top:203.63px;font-size:23px;color:#252423;transform:scaleX(0.93);">Kevin King</span>
<span class="t" style="left:280.21px;top:203.63px;font-size:23px;color:#252423;">6</span>
<span class="t" style="left:611.71px;top:203.63px;font-size:23px;color:#252423;">6</span>
</div>
<div style="left:1988px;top:1933px;width:841px;height:141px;overflow:hidden;background:#fff;">
<svg style="left:0;top:0;" width="841" height="141" viewBox="0 0 841 141"><rect x="514.5" y="8.3" width="109.8" height="50.500" fill="#abebba"/><path d="M514.3 5.8 V61.3" stroke="#333" stroke-width="1.300" stroke-dasharray="1.500 1.500"/><clipPath id="av18"><circle cx="33" cy="32.5" r="24.200"/></clipPath><g clip-path="url(#av18)"><rect x="8.8" y="8.3" width="49" height="49" fill="#dad8d6"/><ellipse cx="33" cy="28.5" rx="15.500" ry="18" fill="#120e0c"/><ellipse cx="33" cy="61.5" rx="21" ry="8" fill="#3a3a3a"/><rect x="27.5" y="46.5" width="11" height="10" fill="#7c553d"/><ellipse cx="33" cy="36" rx="12.600" ry="16.500" fill="#8a5f44"/><path d="M20.5 26 q12.5 -7 25 0 q-3 -9 -12.500 -9 t-12.500 9z" fill="#120e0c"/><ellipse cx="27.7" cy="34" rx="2.100" ry="1.100" fill="#302117"/><ellipse cx="38.3" cy="34" rx="2.100" ry="1.100" fill="#302117"/><ellipse cx="33" cy="45" rx="3.400" ry="1.200" fill="#634430"/><ellipse cx="33" cy="40" rx="1.800" ry="0.900" fill="#755039"/></g><path d="M314 11.8 L322.4 55.3 L413.8 55.3" fill="none" stroke="#118dff" stroke-width="1.700"/><rect x="435" y="64.15" width="15.38" height="50.500" fill="#cfe5f2"/><rect x="514.5" y="64.15" width="18.3" height="50.500" fill="#abebba"/><path d="M434.9 61.65 V117.15" stroke="#333" stroke-width="1.300" stroke-dasharray="1.500 1.500"/><path d="M514.3 61.65 V117.15" stroke="#333" stroke-width="1.300" stroke-dasharray="1.500 1.500"/><clipPath id="av19"><circle cx="33" cy="88.35" r="24.200"/></clipPath><g clip-path="url(#av19)"><rect x="8.8" y="64.15" width="49" height="49" fill="#dedcda"/><ellipse cx="33" cy="84.35" rx="15.500" ry="18" fill="#c8a878"/><ellipse cx="33" cy="117.35" rx="21" ry="8" fill="#d8d0c8"/><rect x="27.5" y="102.35" width="11" height="10" fill="#d4b095"/><ellipse cx="33" cy="91.85" rx="12.600" ry="16.500" fill="#ecc4a6"/><path d="M20.5 81.85 q12.5 -7 25 0 q-3 -9 -12.500 -9 t-12.500 9z" fill="#c8a878"/><ellipse cx="27.7" cy="89.85" rx="2.100" ry="1.100" fill="#52443a"/><ellipse cx="38.3" cy="89.85" rx="2.100" ry="1.100" fill="#52443a"/><ellipse cx="33" cy="100.85" rx="3.400" ry="1.200" fill="#a98d77"/><ellipse cx="33" cy="95.85" rx="1.800" ry="0.900" fill="#c8a68d"/></g><circle cx="314" cy="88.55" r="3.800" fill="#118dff"/><rect x="435" y="120" width="46.14" height="50.500" fill="#cfe5f2"/><rect x="514.5" y="120" width="18.3" height="50.500" fill="#abebba"/><rect x="643" y="120" width="91.8" height="50.500" fill="#f3c6ca"/><path d="M434.9 117.5 V173" stroke="#333" stroke-width="1.300" stroke-dasharray="1.500 1.500"/><path d="M514.3 117.5 V173" stroke="#333" stroke-width="1.300" stroke-dasharray="1.500 1.500"/><path d="M642.6 117.5 V173" stroke="#333" stroke-width="1.300" stroke-dasharray="1.500 1.500"/><clipPath id="av20"><circle cx="33" cy="144.2" r="24.200"/></clipPath><g clip-path="url(#av20)"><rect x="8.8" y="120" width="49" height="49" fill="#dedcda"/><ellipse cx="33" cy="149.2" rx="18.500" ry="27" fill="#120e0c"/><ellipse cx="33" cy="173.2" rx="21" ry="8" fill="#c8c0b8"/><rect x="27.5" y="158.2" width="11" height="10" fill="#8c6144"/><ellipse cx="33" cy="147.7" rx="12.600" ry="16.500" fill="#9c6c4c"/><path d="M20.5 137.7 q12.5 -5 25 0 q-3 -9 -12.500 -9 t-12.500 9z" fill="#120e0c"/><ellipse cx="27.7" cy="145.7" rx="2.100" ry="1.100" fill="#36251a"/><ellipse cx="38.3" cy="145.7" rx="2.100" ry="1.100" fill="#36251a"/><ellipse cx="33" cy="156.7" rx="3.400" ry="1.200" fill="#704d36"/><ellipse cx="33" cy="151.7" rx="1.800" ry="0.900" fill="#845b40"/></g><path d="M314 123.5 L356 167" fill="none" stroke="#118dff" stroke-width="1.700"/></svg>
<span class="t" style="left:78px;top:13.53px;font-size:23px;color:#252423;transform:scaleX(0.93);">Kevin King</span>
<span class="t" style="left:280.21px;top:13.53px;font-size:23px;color:#252423;">6</span>
<span class="t" style="left:611.71px;top:13.53px;font-size:23px;color:#252423;">6</span>
<span class="t" style="left:78px;top:69.38px;font-size:23px;color:#252423;transform:scaleX(0.95);">Cynthia Herman</span>
<span class="t" style="left:280.21px;top:69.38px;font-size:23px;color:#252423;">2</span>
<span class="t" style="left:483.71px;top:69.38px;font-size:23px;color:#252423;">1</span>
<span class="t" style="left:611.71px;top:69.38px;font-size:23px;color:#252423;">1</span>
<span class="t" style="left:78px;top:125.23px;font-size:23px;color:#252423;transform:scaleX(0.95);">Debra Hughes</span>
<span class="t" style="left:280.21px;top:125.23px;font-size:23px;color:#252423;">6</span>
<span class="t" style="left:483.71px;top:125.23px;font-size:23px;color:#252423;">3</span>
<span class="t" style="left:611.71px;top:125.23px;font-size:23px;color:#252423;">1</span>
<span class="t" style="left:721.21px;top:125.23px;font-size:23px;color:#252423;">2</span>
</div>
<div style="left:1988px;top:2074px;width:841px;height:228px;overflow:hidden;background:#fff;">
<svg style="left:0;top:0;" width="841" height="228" viewBox="0 0 841 228"><rect x="435" y="0" width="46.14" height="50.500" fill="#cfe5f2"/><rect x="514.5" y="0" width="18.3" height="50.500" fill="#abebba"/><rect x="643" y="0" width="91.8" height="50.500" fill="#f3c6ca"/><path d="M434.9 -2.5 V53" stroke="#333" stroke-width="1.300" stroke-dasharray="1.500 1.500"/><path d="M514.3 -2.5 V53" stroke="#333" stroke-width="1.300" stroke-dasharray="1.500 1.500"/><path d="M642.6 -2.5 V53" stroke="#333" stroke-width="1.300" stroke-dasharray="1.500 1.500"/><clipPath id="av21"><circle cx="33" cy="24.2" r="24.200"/></clipPath><g clip-path="url(#av21)"><rect x="8.8" y="0" width="49" height="49" fill="#dedcda"/><ellipse cx="33" cy="29.2" rx="18.500" ry="27" fill="#120e0c"/><ellipse cx="33" cy="53.2" rx="21" ry="8" fill="#c8c0b8"/><rect x="27.5" y="38.2" width="11" height="10" fill="#8c6144"/><ellipse cx="33" cy="27.7" rx="12.600" ry="16.500" fill="#9c6c4c"/><path d="M20.5 17.7 q12.5 -5 25 0 q-3 -9 -12.500 -9 t-12.500 9z" fill="#120e0c"/><ellipse cx="27.7" cy="25.7" rx="2.100" ry="1.100" fill="#36251a"/><ellipse cx="38.3" cy="25.7" rx="2.100" ry="1.100" fill="#36251a"/><ellipse cx="33" cy="36.7" rx="3.400" ry="1.200" fill="#704d36"/><ellipse cx="33" cy="31.7" rx="1.800" ry="0.900" fill="#845b40"/></g><path d="M314 3.5 L356 47" fill="none" stroke="#118dff" stroke-width="1.700"/><rect x="435" y="55.85" width="30.76" height="50.500" fill="#cfe5f2"/><rect x="514.5" y="55.85" width="36.6" height="50.500" fill="#abebba"/><path d="M434.9 53.35 V108.85" stroke="#333" stroke-width="1.300" stroke-dasharray="1.500 1.500"/><path d="M514.3 53.35 V108.85" stroke="#333" stroke-width="1.300" stroke-dasharray="1.500 1.500"/><clipPath id="av22"><circle cx="33" cy="80.05" r="24.200"/></clipPath><g clip-path="url(#av22)"><rect x="8.8" y="55.85" width="49" height="49" fill="#dedcda"/><ellipse cx="33" cy="76.05" rx="15.500" ry="18" fill="#5a3e2c"/><ellipse cx="33" cy="109.05" rx="21" ry="8" fill="#e0dcd8"/><rect x="27.5" y="94.05" width="11" height="10" fill="#d8bda9"/><ellipse cx="33" cy="83.55" rx="12.600" ry="16.500" fill="#f0d2bc"/><path d="M20.5 73.55 q12.5 -7 25 0 q-3 -9 -12.500 -9 t-12.500 9z" fill="#5a3e2c"/><ellipse cx="27.7" cy="81.55" rx="2.100" ry="1.100" fill="#544941"/><ellipse cx="38.3" cy="81.55" rx="2.100" ry="1.100" fill="#544941"/><ellipse cx="33" cy="92.55" rx="3.400" ry="1.200" fill="#ac9787"/><ellipse cx="33" cy="87.55" rx="1.800" ry="0.900" fill="#ccb29f"/></g><path d="M314 80.25 L413.8 80.25" fill="none" stroke="#118dff" stroke-width="1.700"/><rect x="514.5" y="111.7" width="73.2" height="50.500" fill="#abebba"/><path d="M514.3 109.2 V164.7" stroke="#333" stroke-width="1.300" stroke-dasharray="1.500 1.500"/><clipPath id="av23"><circle cx="33" cy="135.9" r="24.200"/></clipPath><g clip-path="url(#av23)"><rect x="8.8" y="111.7" width="49" height="49" fill="#d6d6d6"/><ellipse cx="33" cy="140.9" rx="18.500" ry="27" fill="#5a3a26"/><ellipse cx="33" cy="164.9" rx="21" ry="8" fill="#b8b0a8"/><rect x="27.5" y="149.9" width="11" height="10" fill="#cb9e81"/><ellipse cx="33" cy="139.4" rx="12.600" ry="16.500" fill="#e2b090"/><path d="M20.5 129.4 q12.5 -5 25 0 q-3 -9 -12.500 -9 t-12.500 9z" fill="#5a3a26"/><ellipse cx="27.7" cy="137.4" rx="2.100" ry="1.100" fill="#4f3d32"/><ellipse cx="38.3" cy="137.4" rx="2.100" ry="1.100" fill="#4f3d32"/><ellipse cx="33" cy="148.4" rx="3.400" ry="1.200" fill="#a27e67"/><ellipse cx="33" cy="143.4" rx="1.800" ry="0.900" fill="#c0957a"/></g><circle cx="314" cy="136.1" r="3.800" fill="#118dff"/><rect x="435" y="167.55" width="15.38" height="50.500" fill="#cfe5f2"/><rect x="514.5" y="167.55" width="36.6" height="50.500" fill="#abebba"/><path d="M434.9 165.05 V220.55" stroke="#333" stroke-width="1.300" stroke-dasharray="1.500 1.500"/><path d="M514.3 165.05 V220.55" stroke="#333" stroke-width="1.300" stroke-dasharray="1.500 1.500"/><clipPath id="av24"><circle cx="33" cy="191.75" r="24.200"/></clipPath><g clip-path="url(#av24)"><rect x="8.8" y="167.55" width="49" height="49" fill="#d8d4d0"/><ellipse cx="33" cy="187.75" rx="15.500" ry="18" fill="#4a3426"/><ellipse cx="33" cy="220.75" rx="21" ry="8" fill="#b08868"/><rect x="27.5" y="205.75" width="11" height="10" fill="#c2886c"/><ellipse cx="33" cy="195.25" rx="12.600" ry="16.500" fill="#d89878"/><path d="M20.5 185.25 q12.5 -7 25 0 q-3 -9 -12.500 -9 t-12.500 9z" fill="#4a3426"/><ellipse cx="27.7" cy="193.25" rx="2.100" ry="1.100" fill="#4b352a"/><ellipse cx="38.3" cy="193.25" rx="2.100" ry="1.100" fill="#4b352a"/><ellipse cx="33" cy="204.25" rx="3.400" ry="1.200" fill="#9b6d56"/><ellipse cx="33" cy="199.25" rx="1.800" ry="0.900" fill="#b78166"/></g><path d="M314 171.05 L397 214.55" fill="none" stroke="#118dff" stroke-width="1.700"/></svg>
<span class="t" style="left:78px;top:5.23px;font-size:23px;color:#252423;transform:scaleX(0.95);">Debra Hughes</span>
<span class="t" style="left:280.21px;top:5.23px;font-size:23px;color:#252423;">6</span>
<span class="t" style="left:483.71px;top:5.23px;font-size:23px;color:#252423;">3</span>
<span class="t" style="left:611.71px;top:5.23px;font-size:23px;color:#252423;">1</span>
<span class="t" style="left:721.21px;top:5.23px;font-size:23px;color:#252423;">2</span>
<span class="t" style="left:78px;top:61.08px;font-size:23px;color:#252423;transform:scaleX(0.91);">Jeffrey Rivera</span>
<span class="t" style="left:280.21px;top:61.08px;font-size:23px;color:#252423;">4</span>
<span class="t" style="left:483.71px;top:61.08px;font-size:23px;color:#252423;">2</span>
<span class="t" style="left:611.71px;top:61.08px;font-size:23px;color:#252423;">2</span>
<span class="t" style="left:78px;top:116.93px;font-size:23px;color:#252423;transform:scaleX(0.91);">Jessica White</span>
<span class="t" style="left:280.21px;top:116.93px;font-size:23px;color:#252423;">4</span>
<span class="t" style="left:611.71px;top:116.93px;font-size:23px;color:#252423;">4</span>
<span class="t" style="left:78px;top:172.78px;font-size:23px;color:#252423;transform:scaleX(0.94);">Brandon Richards</span>
<span class="t" style="left:280.21px;top:172.78px;font-size:23px;color:#252423;">3</span>
<span class="t" style="left:483.71px;top:172.78px;font-size:23px;color:#252423;">1</span>
<span class="t" style="left:611.71px;top:172.78px;font-size:23px;color:#252423;">2</span>
</div>
<div style="left:0px;top:1492px;width:1988px;height:890px;background:#fff;"></div>
<div style="left:2984px;top:1492px;width:110px;height:890px;background:#fff;"></div>
<div style="left:1988px;top:2302px;width:996px;height:80px;background:#ebebeb;"></div>
<div style="left:2829px;top:0px;width:155px;height:1064px;background:#fff;"></div>
<div style="left:2829px;top:1064px;width:155px;height:1318px;background:#ebebeb;"></div>
<div style="left:2984px;top:96px;width:110px;height:80px;background:#f5f5f5;"></div>
<div style="left:2984px;top:0px;width:110px;height:96px;background:#f0f0f0;"></div>
<div style="left:2984px;top:84px;width:110px;height:12px;background:linear-gradient(#f0f0f0,#ededed 50%,#dedede);"></div>
<div style="left:2984px;top:176px;width:46px;height:1316px;background:#fff;"></div>
<div style="left:3029px;top:176px;width:2px;height:1316px;background:#a8a6a4;"></div>
<div style="left:3031px;top:176px;width:63px;height:1316px;background:#fff;"></div>
<div style="left:3005.5px;top:195px;width:8.5px;height:1297px;background:#eceff9;border-radius:0 10px 0 0;"></div>
<div style="left:2978px;top:184.7px;width:12px;height:205.3px;background:#e0f1b5;border:1.500px solid #a3a3a3;border-left:none;border-radius:0 13px 13px 0;box-sizing:border-box;"></div>
<div style="left:2978px;top:180px;width:6px;height:215px;background:#fff;"></div>
<div style="left:2984px;top:399px;width:30px;height:36.5px;background:#eceff9;"></div>
<div style="left:2984px;top:436px;width:20px;height:78px;background:#fff;border:2px solid #b3b3b3;border-left:none;box-sizing:border-box;"></div>
<div style="left:2993px;top:944.6px;width:1.6px;height:1.6px;background:#d0d0d0;"></div>
<div style="left:2993px;top:849.37px;width:1.6px;height:1.6px;background:#d0d0d0;"></div>
<div style="left:2993px;top:754.14px;width:1.6px;height:1.6px;background:#d0d0d0;"></div>
<div style="left:2993px;top:658.91px;width:1.6px;height:1.6px;background:#d0d0d0;"></div>
<div style="left:2993px;top:563.68px;width:1.6px;height:1.6px;background:#d0d0d0;"></div>
<div style="left:2984.8px;top:1006px;width:11px;height:180px;background:#afaeac;border-radius:5.500px;"></div>
<div style="left:3011px;top:12px;width:72px;height:72px;background:#bdbdbd;border-radius:50%;"></div>
<svg style="left:3011px;top:12px;" width="72" height="72" viewBox="0 0 72 72"><g fill="none" stroke="#fff" stroke-width="2.600"><circle cx="36" cy="30" r="9.500"/><path d="M22 52 c0-9 6-13 14-13 s14 4 14 13"/></g></svg>
<svg style="left:2984px;top:121px;" width="24" height="30" viewBox="0 0 24 30"><path d="M0 2 h20 v17.500 h-15 l-5 4.500" fill="none" stroke="#242424" stroke-width="2" stroke-linejoin="round"/></svg>
<svg style="left:3040px;top:120px;" width="30" height="30" viewBox="0 0 30 30"><path d="M15 2.500 l3.900 8.200 8.900 1.200 -6.500 6.200 1.600 8.900 -7.900-4.300 -7.900 4.300 1.600-8.900 -6.500-6.200 8.900-1.200z" fill="none" stroke="#242424" stroke-width="2" stroke-linejoin="round"/></svg>
<svg style="left:3053px;top:203px;" width="20" height="22" viewBox="0 0 20 22"><path d="M9 2 L2.500 10.500 L9 19 M17 2 L10.500 10.500 L17 19" fill="none" stroke="#242424" stroke-width="2"/></svg>
<svg style="left:3058px;top:262px;" width="16" height="18" viewBox="0 0 16 18"><g stroke="#242424" stroke-width="2"><path d="M13.500 0 v18 M8 2.500 v13 M2.500 6 v6"/></g></svg>
<span class="t" style="left:3077.500px;top:301px;font-size:29px;color:#242424;transform-origin:0 0;transform:rotate(90deg) scaleX(0.99);-webkit-text-stroke:0.8px;">Filters</span>
<div style="left:0px;top:2382px;width:136px;height:101px;background:#f0f0f0;"></div>
<div style="left:118px;top:2382px;width:18px;height:101px;background:linear-gradient(to right,#f0f0f0,#ececec 45%,#dcdcdc);"></div>
<div style="left:136px;top:2382px;width:371px;height:53px;background:#fff;"></div>
<div style="left:506px;top:2382px;width:2px;height:53px;background:#c4c4c4;"></div>
<div style="left:508px;top:2382px;width:2321px;height:36px;background:#fff;"></div>
<div style="left:508px;top:2417px;width:2321px;height:18.5px;background:linear-gradient(#ebebeb,#f4f4f4 50%,#fbfbfb);"></div>
<div style="left:2984px;top:2382px;width:110px;height:36px;background:#fff;"></div>
<div style="left:2984px;top:2417px;width:45px;height:18.5px;background:linear-gradient(#ebebeb,#f4f4f4 50%,#fbfbfb);"></div>
<div style="left:528px;top:2382px;width:2301px;height:15.5px;background:#eceff9;border-radius:0 0 0 24px;"></div>
<div style="left:2984px;top:2382px;width:28.6px;height:15.5px;background:#eceff9;border-radius:0 0 22px 0;"></div>
<div style="left:3029px;top:2382px;width:2px;height:53px;background:#a8a6a4;"></div>
<div style="left:3031px;top:2382px;width:63px;height:53px;background:#fff;"></div>
<div style="left:136px;top:2435px;width:2958px;height:48px;background:#f3f3f3;border-top:1.500px solid #d8d8d8;box-sizing:border-box;"></div>
<div style="left:2829px;top:2382px;width:155px;height:101px;background:#f5f5f5;"></div>
<div style="left:2516.5px;top:2458px;width:8.5px;height:4px;background:#555;"></div>
<div style="left:2535px;top:2459.2px;width:200px;height:1.7px;background:#555;"></div>
<div style="left:2613.9px;top:2449px;width:8px;height:21.8px;background:#555;"></div>
<div style="left:2634px;top:2454.6px;width:1.5px;height:10.5px;background:#555;"></div>
<div style="left:2745.8px;top:2458.4px;width:15.5px;height:3.4px;background:#555;"></div>
<div style="left:2751.9px;top:2452.4px;width:3.4px;height:15.5px;background:#555;"></div>
<div style="left:2780px;top:2440px;width:49px;height:40px;overflow:hidden;">
<span class="t" style="left:8.5px;top:10.23px;font-size:23px;color:#555;transform:scaleX(1.06);">85%</span>
</div>
<div style="left:2984px;top:2440px;width:8px;height:40px;overflow:hidden;">
<span class="t" style="left:-8.5px;top:10.23px;font-size:23px;color:#555;">6</span>
</div>
<svg style="left:3028px;top:2449.5px;" width="30" height="22" viewBox="0 0 30 22"><rect x="1.500" y="1.500" width="27" height="18" rx="4" fill="none" stroke="#333" stroke-width="2"/><path d="M7 9 v-2.500 h4 M23 9 v-2.500 h-4 M7 13 v2.500 h4 M23 13 v2.500 h-4" fill="none" stroke="#333" stroke-width="1.800"/></svg>
</body></html>
